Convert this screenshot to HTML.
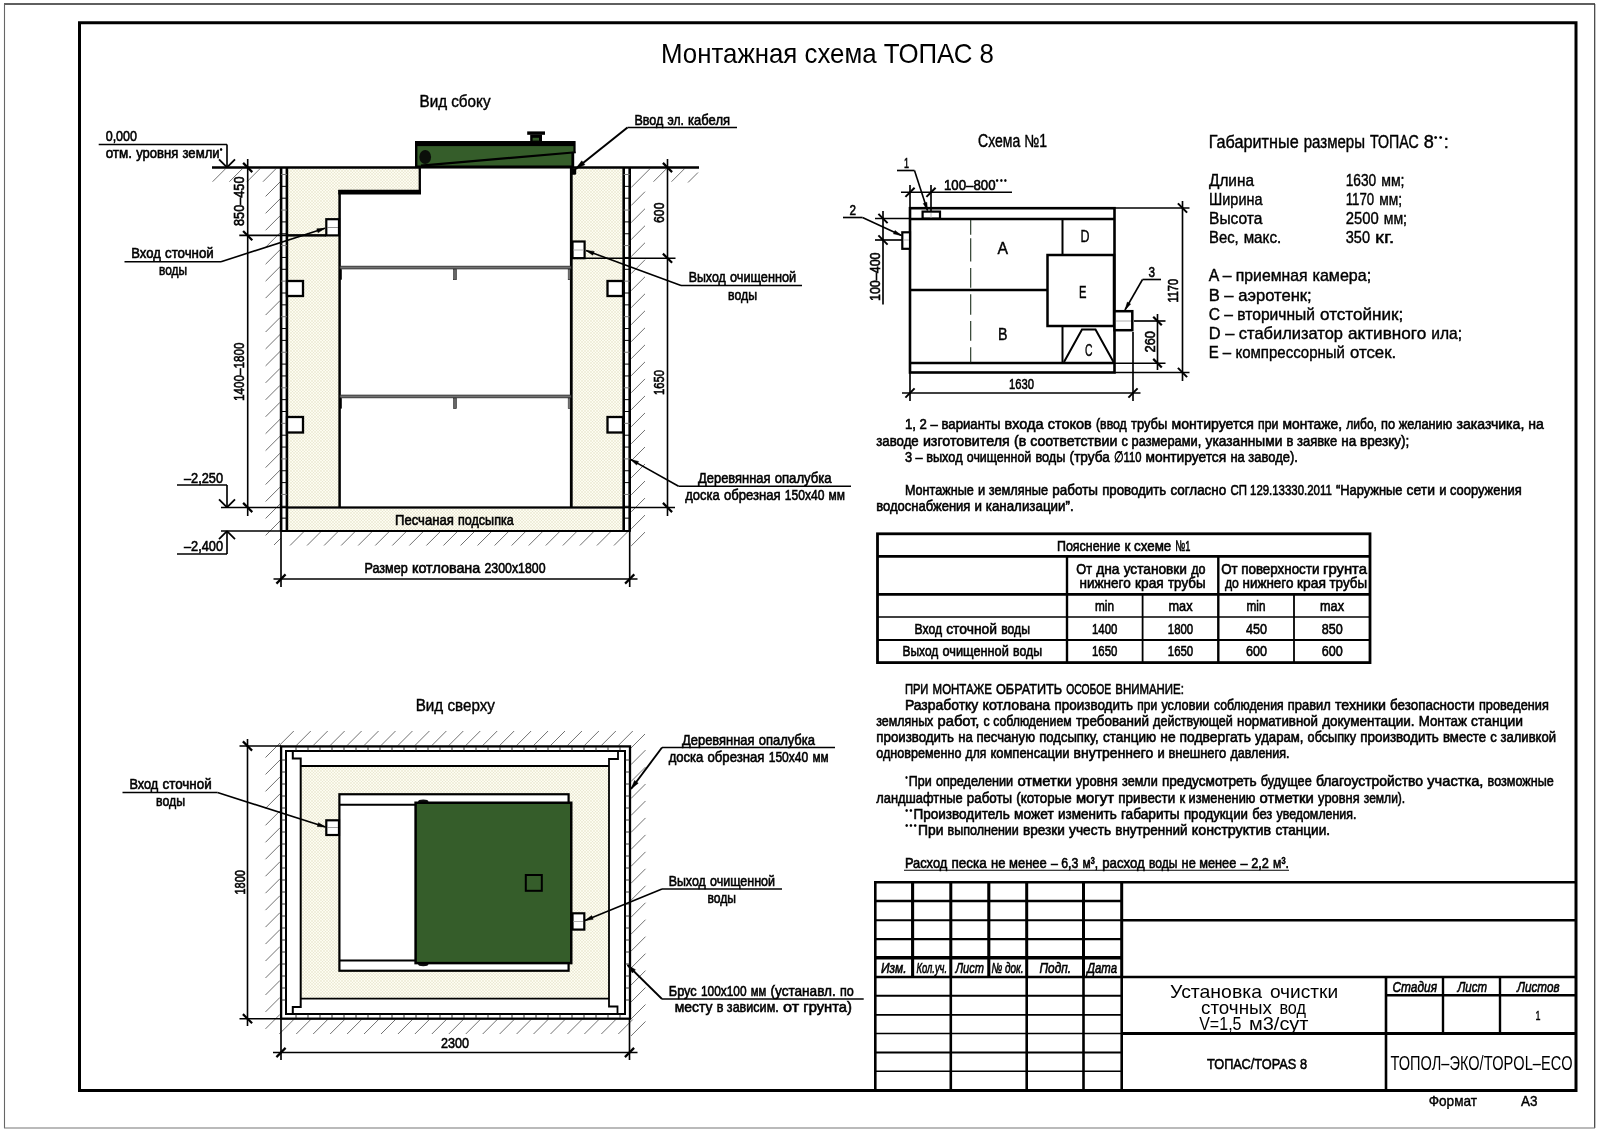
<!DOCTYPE html>
<html lang="ru"><head><meta charset="utf-8"><title>Монтажная схема ТОПАС 8</title>
<style>
html,body{margin:0;padding:0;background:#fff;}
body{width:1600px;height:1131px;overflow:hidden;font-family:"Liberation Sans",sans-serif;}
svg{display:block}
text{font-family:"Liberation Sans",sans-serif;fill:#000;}
.tb{stroke:#000;stroke-width:.62px;}
.tm{stroke:#000;stroke-width:.42px;}
.tl{stroke:none;}
.tn{stroke:#000;stroke-width:.55px;}
.ti{font-style:italic;stroke:#000;stroke-width:.6px;}
</style></head><body>
<svg width="1600" height="1131" viewBox="0 0 1600 1131" shape-rendering="geometricPrecision">
<defs>
<filter id="gray" x="0" y="0" width="1600" height="1131" filterUnits="userSpaceOnUse" color-interpolation-filters="sRGB"><feColorMatrix type="saturate" values="0"/></filter>
<pattern id="sand" width="3" height="3" patternUnits="userSpaceOnUse">
<rect width="3" height="3" fill="#fdfcf1"/>
<path d="M0,0 L3,3 M3,0 L0,3" stroke="#d6d2b2" stroke-width="0.32"/>
</pattern>
</defs>
<rect width="1600" height="1131" fill="#fff"/>
<line x1="4" y1="4" x2="1595" y2="4" stroke="#2a2a2a" stroke-width="1.3" />
<line x1="1594.7" y1="4" x2="1594.7" y2="1128" stroke="#3a3a3a" stroke-width="1.2" />
<line x1="4.5" y1="4" x2="4.5" y2="1128" stroke="#666" stroke-width="1.1" />
<line x1="4" y1="1128" x2="1595" y2="1128" stroke="#777" stroke-width="1.2" />
<rect x="79.5" y="22.75" width="1496.5" height="1067.75" stroke="#000" stroke-width="3" fill="none" />
<path d="M288,168.7 H420 V191.5 H339.4 V507.5 H288 Z" fill="url(#sand)"/>
<rect x="572.5" y="168.7" width="50" height="339" fill="url(#sand)"/>
<rect x="288" y="508.5" width="335" height="22" fill="url(#sand)"/>
<line x1="225.6" y1="168.7" x2="212.6" y2="181.7" stroke="#727272" stroke-width="1" />
<line x1="242.4" y1="168.7" x2="229.4" y2="181.7" stroke="#727272" stroke-width="1" />
<line x1="260" y1="168.7" x2="247" y2="181.7" stroke="#727272" stroke-width="1" />
<line x1="276" y1="168.7" x2="263" y2="181.7" stroke="#727272" stroke-width="1" />
<line x1="265.6" y1="196.4" x2="280" y2="182" stroke="#727272" stroke-width="1" />
<line x1="265.6" y1="213.35" x2="280" y2="198.95" stroke="#727272" stroke-width="1" />
<line x1="265.6" y1="230.3" x2="280" y2="215.9" stroke="#727272" stroke-width="1" />
<line x1="265.6" y1="247.25" x2="280" y2="232.85" stroke="#727272" stroke-width="1" />
<line x1="265.6" y1="264.2" x2="280" y2="249.8" stroke="#727272" stroke-width="1" />
<line x1="265.6" y1="281.15" x2="280" y2="266.75" stroke="#727272" stroke-width="1" />
<line x1="265.6" y1="298.1" x2="280" y2="283.7" stroke="#727272" stroke-width="1" />
<line x1="265.6" y1="315.05" x2="280" y2="300.65" stroke="#727272" stroke-width="1" />
<line x1="265.6" y1="332" x2="280" y2="317.6" stroke="#727272" stroke-width="1" />
<line x1="265.6" y1="348.95" x2="280" y2="334.55" stroke="#727272" stroke-width="1" />
<line x1="265.6" y1="365.9" x2="280" y2="351.5" stroke="#727272" stroke-width="1" />
<line x1="265.6" y1="382.85" x2="280" y2="368.45" stroke="#727272" stroke-width="1" />
<line x1="265.6" y1="399.8" x2="280" y2="385.4" stroke="#727272" stroke-width="1" />
<line x1="265.6" y1="416.75" x2="280" y2="402.35" stroke="#727272" stroke-width="1" />
<line x1="265.6" y1="433.7" x2="280" y2="419.3" stroke="#727272" stroke-width="1" />
<line x1="265.6" y1="450.65" x2="280" y2="436.25" stroke="#727272" stroke-width="1" />
<line x1="265.6" y1="467.6" x2="280" y2="453.2" stroke="#727272" stroke-width="1" />
<line x1="265.6" y1="484.55" x2="280" y2="470.15" stroke="#727272" stroke-width="1" />
<line x1="265.6" y1="501.5" x2="280" y2="487.1" stroke="#727272" stroke-width="1" />
<line x1="265.6" y1="518.45" x2="280" y2="504.05" stroke="#727272" stroke-width="1" />
<line x1="265.6" y1="535.4" x2="280" y2="521" stroke="#727272" stroke-width="1" />
<line x1="631.2" y1="187.5" x2="650" y2="168.7" stroke="#727272" stroke-width="1" />
<line x1="631.2" y1="205.5" x2="645" y2="191.7" stroke="#727272" stroke-width="1" />
<line x1="631.2" y1="222.52" x2="645" y2="208.72" stroke="#727272" stroke-width="1" />
<line x1="631.2" y1="239.54" x2="645" y2="225.74" stroke="#727272" stroke-width="1" />
<line x1="631.2" y1="256.56" x2="645" y2="242.76" stroke="#727272" stroke-width="1" />
<line x1="631.2" y1="273.58" x2="645" y2="259.78" stroke="#727272" stroke-width="1" />
<line x1="631.2" y1="290.6" x2="645" y2="276.8" stroke="#727272" stroke-width="1" />
<line x1="631.2" y1="307.62" x2="645" y2="293.82" stroke="#727272" stroke-width="1" />
<line x1="631.2" y1="324.64" x2="645" y2="310.84" stroke="#727272" stroke-width="1" />
<line x1="631.2" y1="341.66" x2="645" y2="327.86" stroke="#727272" stroke-width="1" />
<line x1="631.2" y1="358.68" x2="645" y2="344.88" stroke="#727272" stroke-width="1" />
<line x1="631.2" y1="375.7" x2="645" y2="361.9" stroke="#727272" stroke-width="1" />
<line x1="631.2" y1="392.72" x2="645" y2="378.92" stroke="#727272" stroke-width="1" />
<line x1="631.2" y1="409.74" x2="645" y2="395.94" stroke="#727272" stroke-width="1" />
<line x1="631.2" y1="426.76" x2="645" y2="412.96" stroke="#727272" stroke-width="1" />
<line x1="631.2" y1="443.78" x2="645" y2="429.98" stroke="#727272" stroke-width="1" />
<line x1="631.2" y1="460.8" x2="645" y2="447" stroke="#727272" stroke-width="1" />
<line x1="631.2" y1="477.82" x2="645" y2="464.02" stroke="#727272" stroke-width="1" />
<line x1="631.2" y1="494.84" x2="645" y2="481.04" stroke="#727272" stroke-width="1" />
<line x1="631.2" y1="511.86" x2="645" y2="498.06" stroke="#727272" stroke-width="1" />
<line x1="631.2" y1="528.88" x2="645" y2="515.08" stroke="#727272" stroke-width="1" />
<line x1="631.2" y1="545.9" x2="645" y2="532.1" stroke="#727272" stroke-width="1" />
<line x1="666.5" y1="168.7" x2="653.5" y2="181.7" stroke="#727272" stroke-width="1" />
<line x1="684.5" y1="168.7" x2="671.5" y2="181.7" stroke="#727272" stroke-width="1" />
<line x1="698" y1="172.5" x2="688" y2="182.5" stroke="#727272" stroke-width="1" />
<line x1="303.5" y1="532" x2="290" y2="545.5" stroke="#727272" stroke-width="1" />
<line x1="320.55" y1="532" x2="307.05" y2="545.5" stroke="#727272" stroke-width="1" />
<line x1="337.6" y1="532" x2="324.1" y2="545.5" stroke="#727272" stroke-width="1" />
<line x1="354.65" y1="532" x2="341.15" y2="545.5" stroke="#727272" stroke-width="1" />
<line x1="371.7" y1="532" x2="358.2" y2="545.5" stroke="#727272" stroke-width="1" />
<line x1="388.75" y1="532" x2="375.25" y2="545.5" stroke="#727272" stroke-width="1" />
<line x1="405.8" y1="532" x2="392.3" y2="545.5" stroke="#727272" stroke-width="1" />
<line x1="422.85" y1="532" x2="409.35" y2="545.5" stroke="#727272" stroke-width="1" />
<line x1="439.9" y1="532" x2="426.4" y2="545.5" stroke="#727272" stroke-width="1" />
<line x1="456.95" y1="532" x2="443.45" y2="545.5" stroke="#727272" stroke-width="1" />
<line x1="474" y1="532" x2="460.5" y2="545.5" stroke="#727272" stroke-width="1" />
<line x1="491.05" y1="532" x2="477.55" y2="545.5" stroke="#727272" stroke-width="1" />
<line x1="508.1" y1="532" x2="494.6" y2="545.5" stroke="#727272" stroke-width="1" />
<line x1="525.15" y1="532" x2="511.65" y2="545.5" stroke="#727272" stroke-width="1" />
<line x1="542.2" y1="532" x2="528.7" y2="545.5" stroke="#727272" stroke-width="1" />
<line x1="559.25" y1="532" x2="545.75" y2="545.5" stroke="#727272" stroke-width="1" />
<line x1="576.3" y1="532" x2="562.8" y2="545.5" stroke="#727272" stroke-width="1" />
<line x1="593.35" y1="532" x2="579.85" y2="545.5" stroke="#727272" stroke-width="1" />
<line x1="610.4" y1="532" x2="596.9" y2="545.5" stroke="#727272" stroke-width="1" />
<line x1="627.45" y1="532" x2="613.95" y2="545.5" stroke="#727272" stroke-width="1" />
<line x1="281" y1="538" x2="274" y2="545" stroke="#727272" stroke-width="1" />
<line x1="212" y1="167.5" x2="699" y2="167.5" stroke="#000" stroke-width="2.6" />
<line x1="281.1" y1="167.5" x2="281.1" y2="531" stroke="#000" stroke-width="2.6" />
<line x1="286.9" y1="167.5" x2="286.9" y2="531" stroke="#000" stroke-width="2.6" />
<line x1="281.1" y1="174.5" x2="286.9" y2="174.5" stroke="#777" stroke-width="1" />
<line x1="281.1" y1="186.35" x2="286.9" y2="186.35" stroke="#000" stroke-width="1" />
<line x1="281.1" y1="198.2" x2="286.9" y2="198.2" stroke="#000" stroke-width="1" />
<line x1="281.1" y1="210.05" x2="286.9" y2="210.05" stroke="#777" stroke-width="1" />
<line x1="281.1" y1="221.9" x2="286.9" y2="221.9" stroke="#000" stroke-width="1" />
<line x1="281.1" y1="233.75" x2="286.9" y2="233.75" stroke="#000" stroke-width="1" />
<line x1="281.1" y1="245.6" x2="286.9" y2="245.6" stroke="#777" stroke-width="1" />
<line x1="281.1" y1="257.45" x2="286.9" y2="257.45" stroke="#000" stroke-width="1" />
<line x1="281.1" y1="269.3" x2="286.9" y2="269.3" stroke="#000" stroke-width="1" />
<line x1="281.1" y1="281.15" x2="286.9" y2="281.15" stroke="#777" stroke-width="1" />
<line x1="281.1" y1="293" x2="286.9" y2="293" stroke="#000" stroke-width="1" />
<line x1="281.1" y1="304.85" x2="286.9" y2="304.85" stroke="#000" stroke-width="1" />
<line x1="281.1" y1="316.7" x2="286.9" y2="316.7" stroke="#777" stroke-width="1" />
<line x1="281.1" y1="328.55" x2="286.9" y2="328.55" stroke="#000" stroke-width="1" />
<line x1="281.1" y1="340.4" x2="286.9" y2="340.4" stroke="#000" stroke-width="1" />
<line x1="281.1" y1="352.25" x2="286.9" y2="352.25" stroke="#777" stroke-width="1" />
<line x1="281.1" y1="364.1" x2="286.9" y2="364.1" stroke="#000" stroke-width="1" />
<line x1="281.1" y1="375.95" x2="286.9" y2="375.95" stroke="#000" stroke-width="1" />
<line x1="281.1" y1="387.8" x2="286.9" y2="387.8" stroke="#777" stroke-width="1" />
<line x1="281.1" y1="399.65" x2="286.9" y2="399.65" stroke="#000" stroke-width="1" />
<line x1="281.1" y1="411.5" x2="286.9" y2="411.5" stroke="#000" stroke-width="1" />
<line x1="281.1" y1="423.35" x2="286.9" y2="423.35" stroke="#777" stroke-width="1" />
<line x1="281.1" y1="435.2" x2="286.9" y2="435.2" stroke="#000" stroke-width="1" />
<line x1="281.1" y1="447.05" x2="286.9" y2="447.05" stroke="#000" stroke-width="1" />
<line x1="281.1" y1="458.9" x2="286.9" y2="458.9" stroke="#777" stroke-width="1" />
<line x1="281.1" y1="470.75" x2="286.9" y2="470.75" stroke="#000" stroke-width="1" />
<line x1="281.1" y1="482.6" x2="286.9" y2="482.6" stroke="#000" stroke-width="1" />
<line x1="281.1" y1="494.45" x2="286.9" y2="494.45" stroke="#777" stroke-width="1" />
<line x1="281.1" y1="506.3" x2="286.9" y2="506.3" stroke="#000" stroke-width="1" />
<line x1="281.1" y1="518.15" x2="286.9" y2="518.15" stroke="#000" stroke-width="1" />
<line x1="623.7" y1="167.5" x2="623.7" y2="531" stroke="#000" stroke-width="2.6" />
<line x1="629.7" y1="167.5" x2="629.7" y2="531" stroke="#000" stroke-width="2.6" />
<line x1="623.7" y1="174.5" x2="629.7" y2="174.5" stroke="#777" stroke-width="1" />
<line x1="623.7" y1="186.35" x2="629.7" y2="186.35" stroke="#000" stroke-width="1" />
<line x1="623.7" y1="198.2" x2="629.7" y2="198.2" stroke="#000" stroke-width="1" />
<line x1="623.7" y1="210.05" x2="629.7" y2="210.05" stroke="#777" stroke-width="1" />
<line x1="623.7" y1="221.9" x2="629.7" y2="221.9" stroke="#000" stroke-width="1" />
<line x1="623.7" y1="233.75" x2="629.7" y2="233.75" stroke="#000" stroke-width="1" />
<line x1="623.7" y1="245.6" x2="629.7" y2="245.6" stroke="#777" stroke-width="1" />
<line x1="623.7" y1="257.45" x2="629.7" y2="257.45" stroke="#000" stroke-width="1" />
<line x1="623.7" y1="269.3" x2="629.7" y2="269.3" stroke="#000" stroke-width="1" />
<line x1="623.7" y1="281.15" x2="629.7" y2="281.15" stroke="#777" stroke-width="1" />
<line x1="623.7" y1="293" x2="629.7" y2="293" stroke="#000" stroke-width="1" />
<line x1="623.7" y1="304.85" x2="629.7" y2="304.85" stroke="#000" stroke-width="1" />
<line x1="623.7" y1="316.7" x2="629.7" y2="316.7" stroke="#777" stroke-width="1" />
<line x1="623.7" y1="328.55" x2="629.7" y2="328.55" stroke="#000" stroke-width="1" />
<line x1="623.7" y1="340.4" x2="629.7" y2="340.4" stroke="#000" stroke-width="1" />
<line x1="623.7" y1="352.25" x2="629.7" y2="352.25" stroke="#777" stroke-width="1" />
<line x1="623.7" y1="364.1" x2="629.7" y2="364.1" stroke="#000" stroke-width="1" />
<line x1="623.7" y1="375.95" x2="629.7" y2="375.95" stroke="#000" stroke-width="1" />
<line x1="623.7" y1="387.8" x2="629.7" y2="387.8" stroke="#777" stroke-width="1" />
<line x1="623.7" y1="399.65" x2="629.7" y2="399.65" stroke="#000" stroke-width="1" />
<line x1="623.7" y1="411.5" x2="629.7" y2="411.5" stroke="#000" stroke-width="1" />
<line x1="623.7" y1="423.35" x2="629.7" y2="423.35" stroke="#777" stroke-width="1" />
<line x1="623.7" y1="435.2" x2="629.7" y2="435.2" stroke="#000" stroke-width="1" />
<line x1="623.7" y1="447.05" x2="629.7" y2="447.05" stroke="#000" stroke-width="1" />
<line x1="623.7" y1="458.9" x2="629.7" y2="458.9" stroke="#777" stroke-width="1" />
<line x1="623.7" y1="470.75" x2="629.7" y2="470.75" stroke="#000" stroke-width="1" />
<line x1="623.7" y1="482.6" x2="629.7" y2="482.6" stroke="#000" stroke-width="1" />
<line x1="623.7" y1="494.45" x2="629.7" y2="494.45" stroke="#777" stroke-width="1" />
<line x1="623.7" y1="506.3" x2="629.7" y2="506.3" stroke="#000" stroke-width="1" />
<line x1="623.7" y1="518.15" x2="629.7" y2="518.15" stroke="#000" stroke-width="1" />
<rect x="287" y="281" width="16" height="15" stroke="#000" stroke-width="2.3" fill="#fff" />
<rect x="287" y="417" width="16" height="15.5" stroke="#000" stroke-width="2.3" fill="#fff" />
<rect x="607.5" y="281" width="15.5" height="15" stroke="#000" stroke-width="2.3" fill="#fff" />
<rect x="607.5" y="417" width="15.5" height="15.5" stroke="#000" stroke-width="2.3" fill="#fff" />
<path d="M420,168.7 H571 V507 H339.4 V191.5 H420 Z" fill="#fff"/>
<line x1="419.8" y1="167.5" x2="419.8" y2="193.5" stroke="#000" stroke-width="2.3" />
<line x1="338.3" y1="192.1" x2="421" y2="192.1" stroke="#000" stroke-width="4.7" />
<line x1="339.6" y1="190" x2="339.6" y2="508" stroke="#000" stroke-width="2.5" />
<line x1="571.3" y1="167.5" x2="571.3" y2="508" stroke="#000" stroke-width="2.8" />
<line x1="221" y1="507.5" x2="675" y2="507.5" stroke="#000" stroke-width="1.6" />
<line x1="287" y1="507.5" x2="623" y2="507.5" stroke="#000" stroke-width="2.2" />
<line x1="221" y1="531" x2="281" y2="531" stroke="#000" stroke-width="1.6" />
<line x1="281" y1="531" x2="630.8" y2="531" stroke="#000" stroke-width="2.2" />
<rect x="340" y="266.2" width="231" height="2.7" stroke="#222" stroke-width="0.8" fill="#727272" />
<rect x="453.6" y="269.2" width="2.8" height="10.5" stroke="#222" stroke-width="0.6" fill="#666" />
<line x1="340.8" y1="269.2" x2="340.8" y2="279.7" stroke="#000" stroke-width="2" />
<rect x="568.2" y="269.2" width="1.8" height="10.5" stroke="#222" stroke-width="0.6" fill="#999" />
<rect x="340" y="395.1" width="231" height="2.7" stroke="#222" stroke-width="0.8" fill="#727272" />
<rect x="453.6" y="398.1" width="2.8" height="10.5" stroke="#222" stroke-width="0.6" fill="#666" />
<line x1="340.8" y1="398.1" x2="340.8" y2="408.6" stroke="#000" stroke-width="2" />
<rect x="568.2" y="398.1" width="1.8" height="10.5" stroke="#222" stroke-width="0.6" fill="#999" />
<rect x="326.3" y="219.2" width="12.7" height="16.2" stroke="#000" stroke-width="2.2" fill="#fff" />
<line x1="327" y1="227.5" x2="338" y2="227.5" stroke="#777" stroke-width="0.8" />
<rect x="572.5" y="241.5" width="12.1" height="16.7" stroke="#000" stroke-width="2.2" fill="#fff" />
<line x1="573" y1="250" x2="584" y2="250" stroke="#999" stroke-width="0.8" />
<path d="M416.1,141.1 H574.8 V153 H573 V167 H416.1 Z" fill="#355d2a" stroke="#000" stroke-width="0"/>
<rect x="415" y="141.05" width="159.9" height="5.05" stroke="#000" stroke-width="0" fill="#000" />
<rect x="415" y="141.05" width="2.4" height="25.95" stroke="#000" stroke-width="0" fill="#000" />
<rect x="573.4" y="141.05" width="2.2" height="12.15" stroke="#000" stroke-width="0" fill="#000" />
<line x1="572.5" y1="152.4" x2="575.6" y2="152.4" stroke="#000" stroke-width="1.6" />
<rect x="571.4" y="152.5" width="2.8" height="15.5" stroke="#000" stroke-width="0" fill="#000" />
<line x1="415" y1="166.4" x2="573" y2="166.4" stroke="#000" stroke-width="2" />
<line x1="421" y1="165.7" x2="573" y2="152.5" stroke="#000" stroke-width="2.2" />
<ellipse cx="425.2" cy="157" rx="5.9" ry="7" fill="#0b0f0a"/>
<rect x="527.2" y="131.4" width="17.8" height="3.4" stroke="#000" stroke-width="0" fill="#000" />
<rect x="530.2" y="134.5" width="11.8" height="7" stroke="#000" stroke-width="0" fill="#000" />
<rect x="532.6" y="137.8" width="6.4" height="2.8" stroke="#000" stroke-width="0" fill="#355d2a" />
<rect x="570.8" y="168.3" width="5.4" height="6.5" stroke="#000" stroke-width="0" fill="#000" rx="1.5"/>
<line x1="98.7" y1="144.5" x2="227" y2="144.5" stroke="#000" stroke-width="1.65" />
<line x1="227" y1="144.5" x2="227" y2="167.5" stroke="#000" stroke-width="1.65" />
<line x1="219" y1="159.3" x2="227" y2="167.3" stroke="#000" stroke-width="1.8" />
<line x1="235" y1="159.3" x2="227" y2="167.3" stroke="#000" stroke-width="1.8" />
<line x1="177" y1="485" x2="227" y2="485" stroke="#000" stroke-width="1.65" />
<line x1="227" y1="485" x2="227" y2="507.5" stroke="#000" stroke-width="1.65" />
<line x1="219" y1="499.3" x2="227" y2="507.3" stroke="#000" stroke-width="1.8" />
<line x1="235" y1="499.3" x2="227" y2="507.3" stroke="#000" stroke-width="1.8" />
<line x1="177" y1="554" x2="227" y2="554" stroke="#000" stroke-width="1.65" />
<line x1="227" y1="554" x2="227" y2="531" stroke="#000" stroke-width="1.65" />
<line x1="219" y1="539.2" x2="227" y2="531.2" stroke="#000" stroke-width="1.8" />
<line x1="235" y1="539.2" x2="227" y2="531.2" stroke="#000" stroke-width="1.8" />
<line x1="247.7" y1="159" x2="247.7" y2="516" stroke="#000" stroke-width="1.6" />
<line x1="239.3" y1="235.4" x2="326" y2="235.4" stroke="#000" stroke-width="1.65" />
<line x1="287" y1="235.4" x2="326" y2="235.4" stroke="#000" stroke-width="2.2" />
<line x1="243.1" y1="162.9" x2="252.3" y2="172.1" stroke="#000" stroke-width="2.2" />
<line x1="243.1" y1="231" x2="252.3" y2="240.2" stroke="#000" stroke-width="2.2" />
<line x1="243.1" y1="502.9" x2="252.3" y2="512.1" stroke="#000" stroke-width="2.2" />
<line x1="667.5" y1="159" x2="667.5" y2="516" stroke="#000" stroke-width="1.6" />
<line x1="573" y1="258.2" x2="675.5" y2="258.2" stroke="#000" stroke-width="1.65" />
<line x1="662.9" y1="162.9" x2="672.1" y2="172.1" stroke="#000" stroke-width="2.2" />
<line x1="662.9" y1="253.6" x2="672.1" y2="262.8" stroke="#000" stroke-width="2.2" />
<line x1="662.9" y1="502.9" x2="672.1" y2="512.1" stroke="#000" stroke-width="2.2" />
<line x1="281" y1="531" x2="281" y2="587" stroke="#000" stroke-width="1.65" />
<line x1="629.7" y1="531" x2="629.7" y2="587" stroke="#000" stroke-width="1.65" />
<line x1="273.5" y1="579" x2="637.5" y2="579" stroke="#000" stroke-width="1.5" />
<line x1="276.4" y1="583.6" x2="285.6" y2="574.4" stroke="#000" stroke-width="2.2" />
<line x1="625.1" y1="583.6" x2="634.3" y2="574.4" stroke="#000" stroke-width="2.2" />
<line x1="627.5" y1="127.5" x2="737" y2="127.5" stroke="#000" stroke-width="1.65" />
<line x1="627.5" y1="127.5" x2="575.5" y2="169" stroke="#000" stroke-width="2.1" />
<polygon points="575.5,169 581.757,160.808 584.875,164.716" stroke="#000" stroke-width="0.5" fill="#000" />
<line x1="124.5" y1="261.7" x2="221" y2="261.7" stroke="#000" stroke-width="1.65" />
<line x1="221" y1="261.7" x2="325" y2="228.3" stroke="#000" stroke-width="1.6" />
<polygon points="325,228.3 317.995,232.65 316.772,228.842" stroke="#000" stroke-width="0.5" fill="#000" />
<line x1="681" y1="285.5" x2="802" y2="285.5" stroke="#000" stroke-width="1.65" />
<line x1="681" y1="285.5" x2="586" y2="250.5" stroke="#000" stroke-width="1.6" />
<polygon points="586,250.5 594.198,251.389 592.815,255.142" stroke="#000" stroke-width="0.5" fill="#000" />
<line x1="678.6" y1="486.2" x2="851" y2="486.2" stroke="#000" stroke-width="1.65" />
<line x1="678.6" y1="486.2" x2="630.6" y2="459.4" stroke="#000" stroke-width="1.6" />
<polygon points="630.6,459.4 638.56,461.554 636.61,465.046" stroke="#000" stroke-width="0.5" fill="#000" />
<rect x="910" y="208.2" width="204.5" height="164.3" stroke="#000" stroke-width="2.6" fill="#fff" />
<line x1="910" y1="219" x2="1114.5" y2="219" stroke="#000" stroke-width="2.3" />
<line x1="910" y1="363" x2="1114.5" y2="363" stroke="#000" stroke-width="2.3" />
<line x1="910" y1="290" x2="1047.5" y2="290" stroke="#000" stroke-width="2.3" />
<line x1="1062.5" y1="219" x2="1062.5" y2="255" stroke="#000" stroke-width="2" />
<line x1="1062.5" y1="326" x2="1062.5" y2="363" stroke="#000" stroke-width="2" />
<rect x="1047.5" y="255" width="66.5" height="71" stroke="#000" stroke-width="2.5" fill="#fff" />
<polyline points="1064,362 1082,329.5 1095.5,329.5 1113.5,362" stroke="#000" stroke-width="2" fill="none" />
<line x1="970.7" y1="220" x2="970.7" y2="234.8" stroke="#1c2e1c" stroke-width="1.1" />
<line x1="970.7" y1="238.3" x2="970.7" y2="261.6" stroke="#1c2e1c" stroke-width="1.1" />
<line x1="970.7" y1="268" x2="970.7" y2="287.8" stroke="#1c2e1c" stroke-width="1.1" />
<line x1="970.7" y1="294.2" x2="970.7" y2="314.7" stroke="#1c2e1c" stroke-width="1.1" />
<line x1="970.7" y1="321" x2="970.7" y2="340.8" stroke="#1c2e1c" stroke-width="1.1" />
<line x1="970.7" y1="347.2" x2="970.7" y2="362.5" stroke="#1c2e1c" stroke-width="1.1" />
<rect x="922.6" y="211.6" width="17.4" height="6.9" stroke="#000" stroke-width="2.2" fill="#fff" />
<line x1="931" y1="213" x2="931" y2="218" stroke="#aaa" stroke-width="0.8" />
<rect x="902.3" y="232.3" width="7.7" height="16.5" stroke="#000" stroke-width="2.2" fill="#fff" />
<line x1="903" y1="240" x2="909" y2="240" stroke="#999" stroke-width="0.8" />
<rect x="1114.5" y="311.2" width="17.8" height="19" stroke="#000" stroke-width="2.5" fill="#fff" />
<line x1="1116" y1="321" x2="1131" y2="321" stroke="#999" stroke-width="0.8" />
<line x1="910" y1="185" x2="910" y2="208" stroke="#000" stroke-width="1.65" />
<line x1="931" y1="185" x2="931" y2="211" stroke="#000" stroke-width="1.65" />
<line x1="901" y1="192.3" x2="1012" y2="192.3" stroke="#000" stroke-width="1.6" />
<line x1="905.4" y1="196.9" x2="914.6" y2="187.7" stroke="#000" stroke-width="2" />
<line x1="926.4" y1="196.9" x2="935.6" y2="187.7" stroke="#000" stroke-width="2" />
<line x1="883" y1="211" x2="883" y2="304.5" stroke="#000" stroke-width="1.65" />
<line x1="875" y1="218.5" x2="910" y2="218.5" stroke="#000" stroke-width="1.65" />
<line x1="875" y1="240" x2="902" y2="240" stroke="#000" stroke-width="1.65" />
<line x1="878.4" y1="213.9" x2="887.6" y2="223.1" stroke="#000" stroke-width="2" />
<line x1="878.4" y1="235.4" x2="887.6" y2="244.6" stroke="#000" stroke-width="2" />
<line x1="897" y1="170.5" x2="914.5" y2="170.5" stroke="#000" stroke-width="1.65" />
<line x1="914.5" y1="170.5" x2="927.5" y2="210.5" stroke="#000" stroke-width="1.6" />
<polygon points="927.5,210.5 923.22,203.479 926.834,202.304" stroke="#000" stroke-width="0.5" fill="#000" />
<line x1="843" y1="217.5" x2="862.5" y2="217.5" stroke="#000" stroke-width="1.65" />
<line x1="862.5" y1="217.5" x2="901.5" y2="235.5" stroke="#000" stroke-width="1.6" />
<polygon points="901.5,235.5 893.44,233.873 895.033,230.422" stroke="#000" stroke-width="0.5" fill="#000" />
<line x1="1142.5" y1="279.5" x2="1161" y2="279.5" stroke="#000" stroke-width="1.65" />
<line x1="1142.5" y1="279.5" x2="1125" y2="310" stroke="#000" stroke-width="1.6" />
<polygon points="1125,310 1127.33,302.115 1130.63,304.007" stroke="#000" stroke-width="0.5" fill="#000" />
<line x1="1157.5" y1="314" x2="1157.5" y2="370" stroke="#000" stroke-width="1.65" />
<line x1="1134" y1="321" x2="1165.5" y2="321" stroke="#000" stroke-width="1.65" />
<line x1="1114.5" y1="363.2" x2="1165.5" y2="363.2" stroke="#000" stroke-width="1.65" />
<line x1="1153.2" y1="316.7" x2="1161.8" y2="325.3" stroke="#000" stroke-width="2.2" />
<line x1="1153.2" y1="358.9" x2="1161.8" y2="367.5" stroke="#000" stroke-width="2.2" />
<line x1="1182.5" y1="201" x2="1182.5" y2="381" stroke="#000" stroke-width="1.65" />
<line x1="1114.5" y1="208" x2="1189.5" y2="208" stroke="#000" stroke-width="1.65" />
<line x1="1114.5" y1="372.5" x2="1189.5" y2="372.5" stroke="#000" stroke-width="1.65" />
<line x1="1177.9" y1="203.4" x2="1187.1" y2="212.6" stroke="#000" stroke-width="2" />
<line x1="1177.9" y1="367.9" x2="1187.1" y2="377.1" stroke="#000" stroke-width="2" />
<line x1="910" y1="373" x2="910" y2="401" stroke="#000" stroke-width="1.65" />
<line x1="1133" y1="332" x2="1133" y2="401" stroke="#000" stroke-width="1.65" />
<line x1="902" y1="393" x2="1140.5" y2="393" stroke="#000" stroke-width="1.5" />
<line x1="905.4" y1="397.6" x2="914.6" y2="388.4" stroke="#000" stroke-width="2" />
<line x1="1128.4" y1="397.6" x2="1137.6" y2="388.4" stroke="#000" stroke-width="2" />
<line x1="904" y1="870.3" x2="1289" y2="870.3" stroke="#000" stroke-width="1.1" />
<rect x="877.5" y="533.8" width="492.5" height="128.8" stroke="#000" stroke-width="2.8" fill="none" />
<line x1="877.5" y1="556.4" x2="1370" y2="556.4" stroke="#000" stroke-width="2.7" />
<line x1="877.5" y1="594.4" x2="1370" y2="594.4" stroke="#000" stroke-width="2.7" />
<line x1="877.5" y1="617" x2="1370" y2="617" stroke="#000" stroke-width="1.7" />
<line x1="877.5" y1="640" x2="1370" y2="640" stroke="#000" stroke-width="2.1" />
<line x1="1067" y1="556" x2="1067" y2="662.5" stroke="#000" stroke-width="2.4" />
<line x1="1218.3" y1="556" x2="1218.3" y2="662.5" stroke="#000" stroke-width="2.4" />
<line x1="1142.6" y1="594" x2="1142.6" y2="662.5" stroke="#000" stroke-width="1.8" />
<line x1="1294" y1="594" x2="1294" y2="662.5" stroke="#000" stroke-width="1.8" />
<line x1="279.3" y1="745.5" x2="293.8" y2="731" stroke="#727272" stroke-width="1" />
<line x1="296.25" y1="745.5" x2="310.75" y2="731" stroke="#727272" stroke-width="1" />
<line x1="313.2" y1="745.5" x2="327.7" y2="731" stroke="#727272" stroke-width="1" />
<line x1="330.15" y1="745.5" x2="344.65" y2="731" stroke="#727272" stroke-width="1" />
<line x1="347.1" y1="745.5" x2="361.6" y2="731" stroke="#727272" stroke-width="1" />
<line x1="364.05" y1="745.5" x2="378.55" y2="731" stroke="#727272" stroke-width="1" />
<line x1="381" y1="745.5" x2="395.5" y2="731" stroke="#727272" stroke-width="1" />
<line x1="397.95" y1="745.5" x2="412.45" y2="731" stroke="#727272" stroke-width="1" />
<line x1="414.9" y1="745.5" x2="429.4" y2="731" stroke="#727272" stroke-width="1" />
<line x1="431.85" y1="745.5" x2="446.35" y2="731" stroke="#727272" stroke-width="1" />
<line x1="448.8" y1="745.5" x2="463.3" y2="731" stroke="#727272" stroke-width="1" />
<line x1="465.75" y1="745.5" x2="480.25" y2="731" stroke="#727272" stroke-width="1" />
<line x1="482.7" y1="745.5" x2="497.2" y2="731" stroke="#727272" stroke-width="1" />
<line x1="499.65" y1="745.5" x2="514.15" y2="731" stroke="#727272" stroke-width="1" />
<line x1="516.6" y1="745.5" x2="531.1" y2="731" stroke="#727272" stroke-width="1" />
<line x1="533.55" y1="745.5" x2="548.05" y2="731" stroke="#727272" stroke-width="1" />
<line x1="550.5" y1="745.5" x2="565" y2="731" stroke="#727272" stroke-width="1" />
<line x1="567.45" y1="745.5" x2="581.95" y2="731" stroke="#727272" stroke-width="1" />
<line x1="584.4" y1="745.5" x2="598.9" y2="731" stroke="#727272" stroke-width="1" />
<line x1="601.35" y1="745.5" x2="615.85" y2="731" stroke="#727272" stroke-width="1" />
<line x1="618.3" y1="745.5" x2="632.8" y2="731" stroke="#727272" stroke-width="1" />
<line x1="279.3" y1="1034" x2="293.8" y2="1019.5" stroke="#727272" stroke-width="1" />
<line x1="296.25" y1="1034" x2="310.75" y2="1019.5" stroke="#727272" stroke-width="1" />
<line x1="313.2" y1="1034" x2="327.7" y2="1019.5" stroke="#727272" stroke-width="1" />
<line x1="330.15" y1="1034" x2="344.65" y2="1019.5" stroke="#727272" stroke-width="1" />
<line x1="347.1" y1="1034" x2="361.6" y2="1019.5" stroke="#727272" stroke-width="1" />
<line x1="364.05" y1="1034" x2="378.55" y2="1019.5" stroke="#727272" stroke-width="1" />
<line x1="381" y1="1034" x2="395.5" y2="1019.5" stroke="#727272" stroke-width="1" />
<line x1="397.95" y1="1034" x2="412.45" y2="1019.5" stroke="#727272" stroke-width="1" />
<line x1="414.9" y1="1034" x2="429.4" y2="1019.5" stroke="#727272" stroke-width="1" />
<line x1="431.85" y1="1034" x2="446.35" y2="1019.5" stroke="#727272" stroke-width="1" />
<line x1="448.8" y1="1034" x2="463.3" y2="1019.5" stroke="#727272" stroke-width="1" />
<line x1="465.75" y1="1034" x2="480.25" y2="1019.5" stroke="#727272" stroke-width="1" />
<line x1="482.7" y1="1034" x2="497.2" y2="1019.5" stroke="#727272" stroke-width="1" />
<line x1="499.65" y1="1034" x2="514.15" y2="1019.5" stroke="#727272" stroke-width="1" />
<line x1="516.6" y1="1034" x2="531.1" y2="1019.5" stroke="#727272" stroke-width="1" />
<line x1="533.55" y1="1034" x2="548.05" y2="1019.5" stroke="#727272" stroke-width="1" />
<line x1="550.5" y1="1034" x2="565" y2="1019.5" stroke="#727272" stroke-width="1" />
<line x1="567.45" y1="1034" x2="581.95" y2="1019.5" stroke="#727272" stroke-width="1" />
<line x1="584.4" y1="1034" x2="598.9" y2="1019.5" stroke="#727272" stroke-width="1" />
<line x1="601.35" y1="1034" x2="615.85" y2="1019.5" stroke="#727272" stroke-width="1" />
<line x1="618.3" y1="1034" x2="632.8" y2="1019.5" stroke="#727272" stroke-width="1" />
<line x1="265.5" y1="757.5" x2="280" y2="743" stroke="#727272" stroke-width="1" />
<line x1="265.5" y1="774.46" x2="280" y2="759.96" stroke="#727272" stroke-width="1" />
<line x1="265.5" y1="791.42" x2="280" y2="776.92" stroke="#727272" stroke-width="1" />
<line x1="265.5" y1="808.38" x2="280" y2="793.88" stroke="#727272" stroke-width="1" />
<line x1="265.5" y1="825.34" x2="280" y2="810.84" stroke="#727272" stroke-width="1" />
<line x1="265.5" y1="842.3" x2="280" y2="827.8" stroke="#727272" stroke-width="1" />
<line x1="265.5" y1="859.26" x2="280" y2="844.76" stroke="#727272" stroke-width="1" />
<line x1="265.5" y1="876.22" x2="280" y2="861.72" stroke="#727272" stroke-width="1" />
<line x1="265.5" y1="893.18" x2="280" y2="878.68" stroke="#727272" stroke-width="1" />
<line x1="265.5" y1="910.14" x2="280" y2="895.64" stroke="#727272" stroke-width="1" />
<line x1="265.5" y1="927.1" x2="280" y2="912.6" stroke="#727272" stroke-width="1" />
<line x1="265.5" y1="944.06" x2="280" y2="929.56" stroke="#727272" stroke-width="1" />
<line x1="265.5" y1="961.02" x2="280" y2="946.52" stroke="#727272" stroke-width="1" />
<line x1="265.5" y1="977.98" x2="280" y2="963.48" stroke="#727272" stroke-width="1" />
<line x1="265.5" y1="994.94" x2="280" y2="980.44" stroke="#727272" stroke-width="1" />
<line x1="265.5" y1="1011.9" x2="280" y2="997.4" stroke="#727272" stroke-width="1" />
<line x1="265.5" y1="1028.86" x2="280" y2="1014.36" stroke="#727272" stroke-width="1" />
<line x1="631" y1="748" x2="645" y2="734" stroke="#727272" stroke-width="1" />
<line x1="631" y1="764.6" x2="645.5" y2="750.1" stroke="#727272" stroke-width="1" />
<line x1="631" y1="781.56" x2="645.5" y2="767.06" stroke="#727272" stroke-width="1" />
<line x1="631" y1="798.52" x2="645.5" y2="784.02" stroke="#727272" stroke-width="1" />
<line x1="631" y1="815.48" x2="645.5" y2="800.98" stroke="#727272" stroke-width="1" />
<line x1="631" y1="832.44" x2="645.5" y2="817.94" stroke="#727272" stroke-width="1" />
<line x1="631" y1="849.4" x2="645.5" y2="834.9" stroke="#727272" stroke-width="1" />
<line x1="631" y1="866.36" x2="645.5" y2="851.86" stroke="#727272" stroke-width="1" />
<line x1="631" y1="883.32" x2="645.5" y2="868.82" stroke="#727272" stroke-width="1" />
<line x1="631" y1="900.28" x2="645.5" y2="885.78" stroke="#727272" stroke-width="1" />
<line x1="631" y1="917.24" x2="645.5" y2="902.74" stroke="#727272" stroke-width="1" />
<line x1="631" y1="934.2" x2="645.5" y2="919.7" stroke="#727272" stroke-width="1" />
<line x1="631" y1="951.16" x2="645.5" y2="936.66" stroke="#727272" stroke-width="1" />
<line x1="631" y1="968.12" x2="645.5" y2="953.62" stroke="#727272" stroke-width="1" />
<line x1="631" y1="985.08" x2="645.5" y2="970.58" stroke="#727272" stroke-width="1" />
<line x1="631" y1="1002.04" x2="645.5" y2="987.54" stroke="#727272" stroke-width="1" />
<line x1="631" y1="1019" x2="645.5" y2="1004.5" stroke="#727272" stroke-width="1" />
<line x1="631" y1="1035.96" x2="645.5" y2="1021.46" stroke="#727272" stroke-width="1" />
<rect x="281.1" y="746.4" width="348.9" height="272.3" stroke="#000" stroke-width="2.3" fill="#fff" />
<rect x="286" y="751" width="339" height="263" stroke="#000" stroke-width="2" fill="none" />
<line x1="296" y1="747" x2="296" y2="750.5" stroke="#333" stroke-width="1" />
<line x1="296" y1="1014.5" x2="296" y2="1018" stroke="#333" stroke-width="1" />
<line x1="308" y1="747" x2="308" y2="750.5" stroke="#333" stroke-width="1" />
<line x1="308" y1="1014.5" x2="308" y2="1018" stroke="#333" stroke-width="1" />
<line x1="320" y1="747" x2="320" y2="750.5" stroke="#333" stroke-width="1" />
<line x1="320" y1="1014.5" x2="320" y2="1018" stroke="#333" stroke-width="1" />
<line x1="332" y1="747" x2="332" y2="750.5" stroke="#333" stroke-width="1" />
<line x1="332" y1="1014.5" x2="332" y2="1018" stroke="#333" stroke-width="1" />
<line x1="344" y1="747" x2="344" y2="750.5" stroke="#333" stroke-width="1" />
<line x1="344" y1="1014.5" x2="344" y2="1018" stroke="#333" stroke-width="1" />
<line x1="356" y1="747" x2="356" y2="750.5" stroke="#333" stroke-width="1" />
<line x1="356" y1="1014.5" x2="356" y2="1018" stroke="#333" stroke-width="1" />
<line x1="368" y1="747" x2="368" y2="750.5" stroke="#333" stroke-width="1" />
<line x1="368" y1="1014.5" x2="368" y2="1018" stroke="#333" stroke-width="1" />
<line x1="380" y1="747" x2="380" y2="750.5" stroke="#333" stroke-width="1" />
<line x1="380" y1="1014.5" x2="380" y2="1018" stroke="#333" stroke-width="1" />
<line x1="392" y1="747" x2="392" y2="750.5" stroke="#333" stroke-width="1" />
<line x1="392" y1="1014.5" x2="392" y2="1018" stroke="#333" stroke-width="1" />
<line x1="404" y1="747" x2="404" y2="750.5" stroke="#333" stroke-width="1" />
<line x1="404" y1="1014.5" x2="404" y2="1018" stroke="#333" stroke-width="1" />
<line x1="416" y1="747" x2="416" y2="750.5" stroke="#333" stroke-width="1" />
<line x1="416" y1="1014.5" x2="416" y2="1018" stroke="#333" stroke-width="1" />
<line x1="428" y1="747" x2="428" y2="750.5" stroke="#333" stroke-width="1" />
<line x1="428" y1="1014.5" x2="428" y2="1018" stroke="#333" stroke-width="1" />
<line x1="440" y1="747" x2="440" y2="750.5" stroke="#333" stroke-width="1" />
<line x1="440" y1="1014.5" x2="440" y2="1018" stroke="#333" stroke-width="1" />
<line x1="452" y1="747" x2="452" y2="750.5" stroke="#333" stroke-width="1" />
<line x1="452" y1="1014.5" x2="452" y2="1018" stroke="#333" stroke-width="1" />
<line x1="464" y1="747" x2="464" y2="750.5" stroke="#333" stroke-width="1" />
<line x1="464" y1="1014.5" x2="464" y2="1018" stroke="#333" stroke-width="1" />
<line x1="476" y1="747" x2="476" y2="750.5" stroke="#333" stroke-width="1" />
<line x1="476" y1="1014.5" x2="476" y2="1018" stroke="#333" stroke-width="1" />
<line x1="488" y1="747" x2="488" y2="750.5" stroke="#333" stroke-width="1" />
<line x1="488" y1="1014.5" x2="488" y2="1018" stroke="#333" stroke-width="1" />
<line x1="500" y1="747" x2="500" y2="750.5" stroke="#333" stroke-width="1" />
<line x1="500" y1="1014.5" x2="500" y2="1018" stroke="#333" stroke-width="1" />
<line x1="512" y1="747" x2="512" y2="750.5" stroke="#333" stroke-width="1" />
<line x1="512" y1="1014.5" x2="512" y2="1018" stroke="#333" stroke-width="1" />
<line x1="524" y1="747" x2="524" y2="750.5" stroke="#333" stroke-width="1" />
<line x1="524" y1="1014.5" x2="524" y2="1018" stroke="#333" stroke-width="1" />
<line x1="536" y1="747" x2="536" y2="750.5" stroke="#333" stroke-width="1" />
<line x1="536" y1="1014.5" x2="536" y2="1018" stroke="#333" stroke-width="1" />
<line x1="548" y1="747" x2="548" y2="750.5" stroke="#333" stroke-width="1" />
<line x1="548" y1="1014.5" x2="548" y2="1018" stroke="#333" stroke-width="1" />
<line x1="560" y1="747" x2="560" y2="750.5" stroke="#333" stroke-width="1" />
<line x1="560" y1="1014.5" x2="560" y2="1018" stroke="#333" stroke-width="1" />
<line x1="572" y1="747" x2="572" y2="750.5" stroke="#333" stroke-width="1" />
<line x1="572" y1="1014.5" x2="572" y2="1018" stroke="#333" stroke-width="1" />
<line x1="584" y1="747" x2="584" y2="750.5" stroke="#333" stroke-width="1" />
<line x1="584" y1="1014.5" x2="584" y2="1018" stroke="#333" stroke-width="1" />
<line x1="596" y1="747" x2="596" y2="750.5" stroke="#333" stroke-width="1" />
<line x1="596" y1="1014.5" x2="596" y2="1018" stroke="#333" stroke-width="1" />
<line x1="608" y1="747" x2="608" y2="750.5" stroke="#333" stroke-width="1" />
<line x1="608" y1="1014.5" x2="608" y2="1018" stroke="#333" stroke-width="1" />
<line x1="620" y1="747" x2="620" y2="750.5" stroke="#333" stroke-width="1" />
<line x1="620" y1="1014.5" x2="620" y2="1018" stroke="#333" stroke-width="1" />
<line x1="281.5" y1="760" x2="285.5" y2="760" stroke="#333" stroke-width="1" />
<line x1="625.5" y1="760" x2="629.5" y2="760" stroke="#333" stroke-width="1" />
<line x1="281.5" y1="772" x2="285.5" y2="772" stroke="#333" stroke-width="1" />
<line x1="625.5" y1="772" x2="629.5" y2="772" stroke="#333" stroke-width="1" />
<line x1="281.5" y1="784" x2="285.5" y2="784" stroke="#333" stroke-width="1" />
<line x1="625.5" y1="784" x2="629.5" y2="784" stroke="#333" stroke-width="1" />
<line x1="281.5" y1="796" x2="285.5" y2="796" stroke="#333" stroke-width="1" />
<line x1="625.5" y1="796" x2="629.5" y2="796" stroke="#333" stroke-width="1" />
<line x1="281.5" y1="808" x2="285.5" y2="808" stroke="#333" stroke-width="1" />
<line x1="625.5" y1="808" x2="629.5" y2="808" stroke="#333" stroke-width="1" />
<line x1="281.5" y1="820" x2="285.5" y2="820" stroke="#333" stroke-width="1" />
<line x1="625.5" y1="820" x2="629.5" y2="820" stroke="#333" stroke-width="1" />
<line x1="281.5" y1="832" x2="285.5" y2="832" stroke="#333" stroke-width="1" />
<line x1="625.5" y1="832" x2="629.5" y2="832" stroke="#333" stroke-width="1" />
<line x1="281.5" y1="844" x2="285.5" y2="844" stroke="#333" stroke-width="1" />
<line x1="625.5" y1="844" x2="629.5" y2="844" stroke="#333" stroke-width="1" />
<line x1="281.5" y1="856" x2="285.5" y2="856" stroke="#333" stroke-width="1" />
<line x1="625.5" y1="856" x2="629.5" y2="856" stroke="#333" stroke-width="1" />
<line x1="281.5" y1="868" x2="285.5" y2="868" stroke="#333" stroke-width="1" />
<line x1="625.5" y1="868" x2="629.5" y2="868" stroke="#333" stroke-width="1" />
<line x1="281.5" y1="880" x2="285.5" y2="880" stroke="#333" stroke-width="1" />
<line x1="625.5" y1="880" x2="629.5" y2="880" stroke="#333" stroke-width="1" />
<line x1="281.5" y1="892" x2="285.5" y2="892" stroke="#333" stroke-width="1" />
<line x1="625.5" y1="892" x2="629.5" y2="892" stroke="#333" stroke-width="1" />
<line x1="281.5" y1="904" x2="285.5" y2="904" stroke="#333" stroke-width="1" />
<line x1="625.5" y1="904" x2="629.5" y2="904" stroke="#333" stroke-width="1" />
<line x1="281.5" y1="916" x2="285.5" y2="916" stroke="#333" stroke-width="1" />
<line x1="625.5" y1="916" x2="629.5" y2="916" stroke="#333" stroke-width="1" />
<line x1="281.5" y1="928" x2="285.5" y2="928" stroke="#333" stroke-width="1" />
<line x1="625.5" y1="928" x2="629.5" y2="928" stroke="#333" stroke-width="1" />
<line x1="281.5" y1="940" x2="285.5" y2="940" stroke="#333" stroke-width="1" />
<line x1="625.5" y1="940" x2="629.5" y2="940" stroke="#333" stroke-width="1" />
<line x1="281.5" y1="952" x2="285.5" y2="952" stroke="#333" stroke-width="1" />
<line x1="625.5" y1="952" x2="629.5" y2="952" stroke="#333" stroke-width="1" />
<line x1="281.5" y1="964" x2="285.5" y2="964" stroke="#333" stroke-width="1" />
<line x1="625.5" y1="964" x2="629.5" y2="964" stroke="#333" stroke-width="1" />
<line x1="281.5" y1="976" x2="285.5" y2="976" stroke="#333" stroke-width="1" />
<line x1="625.5" y1="976" x2="629.5" y2="976" stroke="#333" stroke-width="1" />
<line x1="281.5" y1="988" x2="285.5" y2="988" stroke="#333" stroke-width="1" />
<line x1="625.5" y1="988" x2="629.5" y2="988" stroke="#333" stroke-width="1" />
<line x1="281.5" y1="1000" x2="285.5" y2="1000" stroke="#333" stroke-width="1" />
<line x1="625.5" y1="1000" x2="629.5" y2="1000" stroke="#333" stroke-width="1" />
<rect x="301" y="766" width="308" height="232.7" fill="url(#sand)"/>
<polyline points="292.8,751 292.8,758.5 300.7,758.5 300.7,1007 292.8,1007 292.8,1014" stroke="#000" stroke-width="2" fill="none" />
<polyline points="618,751 618,759 609,759 609,1006.5 617.5,1006.5 617.5,1014" stroke="#000" stroke-width="1.8" fill="none" />
<line x1="301" y1="766" x2="609" y2="766" stroke="#000" stroke-width="1.8" />
<line x1="301" y1="998.7" x2="609" y2="998.7" stroke="#000" stroke-width="1.8" />
<rect x="339.4" y="794.25" width="229.2" height="176.5" stroke="#000" stroke-width="2.2" fill="#fff" />
<line x1="339" y1="804.75" x2="416" y2="804.75" stroke="#000" stroke-width="2" />
<line x1="339" y1="960.4" x2="416" y2="960.4" stroke="#000" stroke-width="2" />
<ellipse cx="423.25" cy="801.7" rx="5.2" ry="2.2" fill="#111"/>
<ellipse cx="423.25" cy="964.1" rx="5.2" ry="2.2" fill="#111"/>
<rect x="415.6" y="802.75" width="155.65" height="160.35" stroke="#000" stroke-width="2.5" fill="#355d2a" />
<rect x="525.8" y="875" width="16" height="15.8" stroke="#000" stroke-width="2" fill="none" />
<rect x="326.3" y="820.3" width="12.7" height="14.7" stroke="#000" stroke-width="2.2" fill="#fff" />
<line x1="327" y1="827.5" x2="338" y2="827.5" stroke="#888" stroke-width="0.8" />
<rect x="572.5" y="913.3" width="11.8" height="16.3" stroke="#000" stroke-width="2.2" fill="#fff" />
<line x1="573" y1="921.5" x2="583" y2="921.5" stroke="#999" stroke-width="0.8" />
<line x1="247.5" y1="739" x2="247.5" y2="1026" stroke="#000" stroke-width="1.6" />
<line x1="239.5" y1="746" x2="281" y2="746" stroke="#000" stroke-width="1.65" />
<line x1="239.5" y1="1018.7" x2="281" y2="1018.7" stroke="#000" stroke-width="1.65" />
<line x1="242.9" y1="741.4" x2="252.1" y2="750.6" stroke="#000" stroke-width="2.2" />
<line x1="242.9" y1="1014.1" x2="252.1" y2="1023.3" stroke="#000" stroke-width="2.2" />
<line x1="281" y1="1018.7" x2="281" y2="1060" stroke="#000" stroke-width="1.65" />
<line x1="629.5" y1="1018.7" x2="629.5" y2="1060" stroke="#000" stroke-width="1.65" />
<line x1="273" y1="1052.5" x2="637.5" y2="1052.5" stroke="#000" stroke-width="1.5" />
<line x1="276.4" y1="1057.1" x2="285.6" y2="1047.9" stroke="#000" stroke-width="2.2" />
<line x1="624.9" y1="1057.1" x2="634.1" y2="1047.9" stroke="#000" stroke-width="2.2" />
<line x1="122.5" y1="792.5" x2="217.5" y2="792.5" stroke="#000" stroke-width="1.65" />
<line x1="217.5" y1="792.5" x2="325.5" y2="827" stroke="#000" stroke-width="1.6" />
<polygon points="325.5,827 317.271,826.471 318.488,822.66" stroke="#000" stroke-width="0.5" fill="#000" />
<line x1="662" y1="747.5" x2="835" y2="747.5" stroke="#000" stroke-width="1.65" />
<line x1="662" y1="747.5" x2="631" y2="789" stroke="#000" stroke-width="1.9" />
<polygon points="631,789 634.543,780.413 638.229,783.166" stroke="#000" stroke-width="0.5" fill="#000" />
<line x1="662" y1="889" x2="782" y2="889" stroke="#000" stroke-width="1.65" />
<line x1="662" y1="889" x2="585" y2="920.5" stroke="#000" stroke-width="1.6" />
<polygon points="585,920.5 591.647,915.62 593.162,919.322" stroke="#000" stroke-width="0.5" fill="#000" />
<line x1="662" y1="999" x2="863.7" y2="999" stroke="#000" stroke-width="1.65" />
<line x1="662" y1="999" x2="627.5" y2="965" stroke="#000" stroke-width="1.8" />
<polygon points="627.5,965 635.454,969.75 632.366,972.884" stroke="#000" stroke-width="0.5" fill="#000" />
<line x1="875.3" y1="881" x2="875.3" y2="1090.5" stroke="#000" stroke-width="2.6" />
<line x1="874" y1="882.3" x2="1576" y2="882.3" stroke="#000" stroke-width="2.6" />
<line x1="950.8" y1="882.3" x2="950.8" y2="977" stroke="#000" stroke-width="3" />
<line x1="950.8" y1="977" x2="950.8" y2="1090.5" stroke="#000" stroke-width="2.6" />
<line x1="1026.7" y1="882.3" x2="1026.7" y2="977" stroke="#000" stroke-width="3" />
<line x1="1026.7" y1="977" x2="1026.7" y2="1090.5" stroke="#000" stroke-width="2.6" />
<line x1="1083.5" y1="882.3" x2="1083.5" y2="977" stroke="#000" stroke-width="3" />
<line x1="1083.5" y1="977" x2="1083.5" y2="1090.5" stroke="#000" stroke-width="2.6" />
<line x1="1121.7" y1="882.3" x2="1121.7" y2="977" stroke="#000" stroke-width="3" />
<line x1="1121.7" y1="977" x2="1121.7" y2="1090.5" stroke="#000" stroke-width="2.6" />
<line x1="912.6" y1="882.3" x2="912.6" y2="977" stroke="#000" stroke-width="3.1" />
<line x1="988.8" y1="882.3" x2="988.8" y2="977" stroke="#000" stroke-width="3.1" />
<line x1="875.3" y1="901" x2="1121.7" y2="901" stroke="#000" stroke-width="2.3" />
<line x1="875.3" y1="920.2" x2="1121.7" y2="920.2" stroke="#000" stroke-width="2" />
<line x1="875.3" y1="939.2" x2="1121.7" y2="939.2" stroke="#000" stroke-width="2.3" />
<line x1="875.3" y1="957.7" x2="1121.7" y2="957.7" stroke="#000" stroke-width="3.4" />
<line x1="875.3" y1="977" x2="1576" y2="977" stroke="#000" stroke-width="2.7" />
<line x1="875.3" y1="995.8" x2="1121.7" y2="995.8" stroke="#000" stroke-width="2.1" />
<line x1="875.3" y1="1014.8" x2="1121.7" y2="1014.8" stroke="#000" stroke-width="1.7" />
<line x1="875.3" y1="1033.4" x2="1121.7" y2="1033.4" stroke="#000" stroke-width="1.5" />
<line x1="875.3" y1="1052.4" x2="1121.7" y2="1052.4" stroke="#000" stroke-width="2" />
<line x1="875.3" y1="1071.3" x2="1121.7" y2="1071.3" stroke="#000" stroke-width="1.5" />
<line x1="1121.7" y1="920.2" x2="1576" y2="920.2" stroke="#000" stroke-width="2.4" />
<line x1="1121.7" y1="1033.5" x2="1576" y2="1033.5" stroke="#000" stroke-width="3" />
<line x1="1386" y1="977" x2="1386" y2="1090.5" stroke="#000" stroke-width="2.6" />
<line x1="1443" y1="977" x2="1443" y2="1033.7" stroke="#000" stroke-width="2.4" />
<line x1="1500" y1="977" x2="1500" y2="1033.7" stroke="#000" stroke-width="2.4" />
<line x1="1386" y1="995.3" x2="1576" y2="995.3" stroke="#000" stroke-width="2.4" />
<g filter="url(#gray)">
<text class="tb" x="105.7" y="141" font-size="15.2" textLength="31.3" lengthAdjust="spacingAndGlyphs" >0,000</text>
<text class="tb" x="105.7" y="158" font-size="15.2" textLength="26.3" lengthAdjust="spacingAndGlyphs" >отм.</text>
<text class="tb" x="136.2" y="158" font-size="15.2" textLength="42.1" lengthAdjust="spacingAndGlyphs" >уровня</text>
<text class="tb" x="182.5" y="158" font-size="15.2" textLength="41.2" lengthAdjust="spacingAndGlyphs" >земли<tspan dy="-5.2" font-size="10.5" letter-spacing="1.1" stroke-width="0">•</tspan></text>
<text class="tb" x="184" y="483" font-size="15.2" textLength="39" lengthAdjust="spacingAndGlyphs" >–2,250</text>
<text class="tb" x="184" y="551" font-size="15.2" textLength="39" lengthAdjust="spacingAndGlyphs" >–2,400</text>
<text class="tb" transform="translate(244,226) rotate(-90)" x="0" y="0" font-size="15.2" textLength="49.5" lengthAdjust="spacingAndGlyphs">850–450</text>
<text class="tb" transform="translate(244,401) rotate(-90)" x="0" y="0" font-size="15.2" textLength="58.5" lengthAdjust="spacingAndGlyphs">1400–1800</text>
<text class="tb" transform="translate(664,223) rotate(-90)" x="0" y="0" font-size="15.2" textLength="20.5" lengthAdjust="spacingAndGlyphs">600</text>
<text class="tb" transform="translate(664,395) rotate(-90)" x="0" y="0" font-size="15.2" textLength="25" lengthAdjust="spacingAndGlyphs">1650</text>
<text class="tb" x="364.5" y="573" font-size="15.2" textLength="43.3" lengthAdjust="spacingAndGlyphs" >Размер</text>
<text class="tb" x="412" y="573" font-size="15.2" textLength="68.3" lengthAdjust="spacingAndGlyphs" >котлована</text>
<text class="tb" x="484.5" y="573" font-size="15.2" textLength="61" lengthAdjust="spacingAndGlyphs" >2300х1800</text>
<text class="tb" x="395" y="525" font-size="15.2" textLength="58.8" lengthAdjust="spacingAndGlyphs" >Песчаная</text>
<text class="tb" x="458" y="525" font-size="15.2" textLength="55.7" lengthAdjust="spacingAndGlyphs" >подсыпка</text>
<text class="tm" x="419.5" y="107" font-size="16.2" textLength="71" lengthAdjust="spacingAndGlyphs" >Вид сбоку</text>
<text class="tb" x="634.4" y="125" font-size="15.2" textLength="28.9" lengthAdjust="spacingAndGlyphs" >Ввод</text>
<text class="tb" x="667.5" y="125" font-size="15.2" textLength="16.4" lengthAdjust="spacingAndGlyphs" >эл.</text>
<text class="tb" x="688.1" y="125" font-size="15.2" textLength="41.9" lengthAdjust="spacingAndGlyphs" >кабеля</text>
<text class="tb" x="131.3" y="258.4" font-size="15.2" textLength="29.5" lengthAdjust="spacingAndGlyphs" >Вход</text>
<text class="tb" x="165" y="258.4" font-size="15.2" textLength="48.8" lengthAdjust="spacingAndGlyphs" >сточной</text>
<text class="tb" x="159" y="275" font-size="15.2" textLength="28" lengthAdjust="spacingAndGlyphs" >воды</text>
<text class="tb" x="688.7" y="282" font-size="15.2" textLength="37.1" lengthAdjust="spacingAndGlyphs" >Выход</text>
<text class="tb" x="730" y="282" font-size="15.2" textLength="66.2" lengthAdjust="spacingAndGlyphs" >очищенной</text>
<text class="tb" x="728" y="299.5" font-size="15.2" textLength="29" lengthAdjust="spacingAndGlyphs" >воды</text>
<text class="tb" x="698.1" y="483" font-size="15.2" textLength="72.4" lengthAdjust="spacingAndGlyphs" >Деревянная</text>
<text class="tb" x="774.7" y="483" font-size="15.2" textLength="57" lengthAdjust="spacingAndGlyphs" >опалубка</text>
<text class="tb" x="685.3" y="499.5" font-size="15.2" textLength="34.4" lengthAdjust="spacingAndGlyphs" >доска</text>
<text class="tb" x="723.9" y="499.5" font-size="15.2" textLength="56.7" lengthAdjust="spacingAndGlyphs" >обрезная</text>
<text class="tb" x="784.8" y="499.5" font-size="15.2" textLength="39.6" lengthAdjust="spacingAndGlyphs" >150х40</text>
<text class="tb" x="828.6" y="499.5" font-size="15.2" textLength="16.4" lengthAdjust="spacingAndGlyphs" >мм</text>
<text class="tb" x="944" y="189.5" font-size="15.2" textLength="64" lengthAdjust="spacingAndGlyphs" >100–800<tspan dy="-5.2" font-size="10.5" letter-spacing="1.1" stroke-width="0">•••</tspan></text>
<text class="tb" transform="translate(880,301) rotate(-90)" x="0" y="0" font-size="15.2" textLength="48.5" lengthAdjust="spacingAndGlyphs">100–400</text>
<text class="tb" x="904" y="168" font-size="15.2" textLength="5" lengthAdjust="spacingAndGlyphs" >1</text>
<text class="tb" x="849.5" y="215" font-size="15.2" textLength="6.5" lengthAdjust="spacingAndGlyphs" >2</text>
<text class="tb" x="1148.5" y="276.5" font-size="15.2" textLength="6.5" lengthAdjust="spacingAndGlyphs" >3</text>
<text class="tb" transform="translate(1155,352.5) rotate(-90)" x="0" y="0" font-size="15.2" textLength="21.5" lengthAdjust="spacingAndGlyphs">260</text>
<text class="tb" transform="translate(1178.3,302.5) rotate(-90)" x="0" y="0" font-size="15.2" textLength="23.5" lengthAdjust="spacingAndGlyphs">1170</text>
<text class="tb" x="1009" y="389" font-size="15.2" textLength="25" lengthAdjust="spacingAndGlyphs" >1630</text>
<text class="tm" x="997.5" y="254" font-size="17" textLength="10.5" lengthAdjust="spacingAndGlyphs" >A</text>
<text class="tm" x="998" y="340" font-size="17" textLength="9.5" lengthAdjust="spacingAndGlyphs" >B</text>
<text class="tm" x="1080.5" y="242" font-size="17" textLength="9" lengthAdjust="spacingAndGlyphs" >D</text>
<text class="tm" x="1079" y="297.5" font-size="17" textLength="7.5" lengthAdjust="spacingAndGlyphs" >E</text>
<text class="tm" x="1085" y="356" font-size="17" textLength="7.5" lengthAdjust="spacingAndGlyphs" >C</text>
<text class="tm" x="978" y="147" font-size="17.5" textLength="69" lengthAdjust="spacingAndGlyphs" >Схема №1</text>
<text class="tm" x="1208.7" y="147.5" font-size="17.5" textLength="90" lengthAdjust="spacingAndGlyphs" >Габаритные</text>
<text class="tm" x="1303.7" y="147.5" font-size="17.5" textLength="61.3" lengthAdjust="spacingAndGlyphs" >размеры</text>
<text class="tm" x="1370" y="147.5" font-size="17.5" textLength="48.7" lengthAdjust="spacingAndGlyphs" >ТОПАС</text>
<text class="tm" x="1423.7" y="147.5" font-size="17.5" textLength="25" lengthAdjust="spacingAndGlyphs" >8<tspan dy="-6.8" font-size="10.5" letter-spacing="1.1" stroke-width="0">••</tspan><tspan dy="6.8">:</tspan></text>
<text class="tm" x="1209" y="185.5" font-size="17" textLength="45" lengthAdjust="spacingAndGlyphs" >Длина</text>
<text class="tm" x="1345.7" y="185.5" font-size="17" textLength="30.5" lengthAdjust="spacingAndGlyphs" >1630</text>
<text class="tm" x="1381.2" y="185.5" font-size="17" textLength="23.3" lengthAdjust="spacingAndGlyphs" >мм;</text>
<text class="tm" x="1209" y="204.5" font-size="17" textLength="53.5" lengthAdjust="spacingAndGlyphs" >Ширина</text>
<text class="tm" x="1345.7" y="204.5" font-size="17" textLength="28.5" lengthAdjust="spacingAndGlyphs" >1170</text>
<text class="tm" x="1379.2" y="204.5" font-size="17" textLength="22.8" lengthAdjust="spacingAndGlyphs" >мм;</text>
<text class="tm" x="1209" y="224" font-size="17" textLength="53.5" lengthAdjust="spacingAndGlyphs" >Высота</text>
<text class="tm" x="1345.7" y="224" font-size="17" textLength="33" lengthAdjust="spacingAndGlyphs" >2500</text>
<text class="tm" x="1383.7" y="224" font-size="17" textLength="23.3" lengthAdjust="spacingAndGlyphs" >мм;</text>
<text class="tm" x="1209" y="243" font-size="17" textLength="29.7" lengthAdjust="spacingAndGlyphs" >Вес,</text>
<text class="tm" x="1243.7" y="243" font-size="17" textLength="37.5" lengthAdjust="spacingAndGlyphs" >макс.</text>
<text class="tm" x="1345.7" y="243" font-size="17" textLength="24.3" lengthAdjust="spacingAndGlyphs" >350</text>
<text class="tm" x="1375" y="243" font-size="17" textLength="19.5" lengthAdjust="spacingAndGlyphs" >кг.</text>
<text class="tm" x="1208.7" y="281" font-size="17" textLength="98.8" lengthAdjust="spacingAndGlyphs" >A – приемная</text>
<text class="tm" x="1312.5" y="281" font-size="17" textLength="58.7" lengthAdjust="spacingAndGlyphs" >камера;</text>
<text class="tm" x="1208.7" y="300.5" font-size="17" textLength="103" lengthAdjust="spacingAndGlyphs" >B – аэротенк;</text>
<text class="tm" x="1208.7" y="319.5" font-size="17" textLength="106.3" lengthAdjust="spacingAndGlyphs" >C – вторичный</text>
<text class="tm" x="1320" y="319.5" font-size="17" textLength="83.2" lengthAdjust="spacingAndGlyphs" >отстойник;</text>
<text class="tm" x="1208.7" y="339" font-size="17" textLength="134.3" lengthAdjust="spacingAndGlyphs" >D – стабилизатор</text>
<text class="tm" x="1348" y="339" font-size="17" textLength="78.2" lengthAdjust="spacingAndGlyphs" >активного</text>
<text class="tm" x="1431.2" y="339" font-size="17" textLength="30.8" lengthAdjust="spacingAndGlyphs" >ила;</text>
<text class="tm" x="1208.7" y="358" font-size="17" textLength="136.3" lengthAdjust="spacingAndGlyphs" >E – компрессорный</text>
<text class="tm" x="1350" y="358" font-size="17" textLength="46.2" lengthAdjust="spacingAndGlyphs" >отсек.</text>
<text class="tb" x="904.9" y="429" font-size="15.2" textLength="95.5" lengthAdjust="spacingAndGlyphs" >1, 2 – варианты</text>
<text class="tb" x="1004.6" y="429" font-size="15.2" textLength="39" lengthAdjust="spacingAndGlyphs" >входа</text>
<text class="tb" x="1047.8" y="429" font-size="15.2" textLength="44" lengthAdjust="spacingAndGlyphs" >стоков</text>
<text class="tb" x="1096" y="429" font-size="15.2" textLength="30.8" lengthAdjust="spacingAndGlyphs" >(ввод</text>
<text class="tb" x="1131" y="429" font-size="15.2" textLength="36.3" lengthAdjust="spacingAndGlyphs" >трубы</text>
<text class="tb" x="1171.5" y="429" font-size="15.2" textLength="82.3" lengthAdjust="spacingAndGlyphs" >монтируется</text>
<text class="tb" x="1258" y="429" font-size="15.2" textLength="20.4" lengthAdjust="spacingAndGlyphs" >при</text>
<text class="tb" x="1282.6" y="429" font-size="15.2" textLength="59.5" lengthAdjust="spacingAndGlyphs" >монтаже,</text>
<text class="tb" x="1346.3" y="429" font-size="15.2" textLength="30.6" lengthAdjust="spacingAndGlyphs" >либо,</text>
<text class="tb" x="1381.1" y="429" font-size="15.2" textLength="71.2" lengthAdjust="spacingAndGlyphs" >по желанию</text>
<text class="tb" x="1456.5" y="429" font-size="15.2" textLength="87.3" lengthAdjust="spacingAndGlyphs" >заказчика, на</text>
<text class="tb" x="876.3" y="445.5" font-size="15.2" textLength="42.4" lengthAdjust="spacingAndGlyphs" >заводе</text>
<text class="tb" x="922.9" y="445.5" font-size="15.2" textLength="86.9" lengthAdjust="spacingAndGlyphs" >изготовителя</text>
<text class="tb" x="1014" y="445.5" font-size="15.2" textLength="103.4" lengthAdjust="spacingAndGlyphs" >(в соответствии</text>
<text class="tb" x="1121.6" y="445.5" font-size="15.2" textLength="79.7" lengthAdjust="spacingAndGlyphs" >с размерами,</text>
<text class="tb" x="1205.5" y="445.5" font-size="15.2" textLength="76.9" lengthAdjust="spacingAndGlyphs" >указанными</text>
<text class="tb" x="1286.6" y="445.5" font-size="15.2" textLength="50.5" lengthAdjust="spacingAndGlyphs" >в заявке</text>
<text class="tb" x="1341.3" y="445.5" font-size="15.2" textLength="68" lengthAdjust="spacingAndGlyphs" >на врезку);</text>
<text class="tb" x="904.9" y="462" font-size="15.2" textLength="57.7" lengthAdjust="spacingAndGlyphs" >3 – выход</text>
<text class="tb" x="966.8" y="462" font-size="15.2" textLength="64.4" lengthAdjust="spacingAndGlyphs" >очищенной</text>
<text class="tb" x="1035.4" y="462" font-size="15.2" textLength="30" lengthAdjust="spacingAndGlyphs" >воды</text>
<text class="tb" x="1069.6" y="462" font-size="15.2" textLength="40.2" lengthAdjust="spacingAndGlyphs" >(труба</text>
<text class="tb" x="1114" y="462" font-size="15.2" textLength="27.4" lengthAdjust="spacingAndGlyphs" >∅110</text>
<text class="tb" x="1145.6" y="462" font-size="15.2" textLength="80.6" lengthAdjust="spacingAndGlyphs" >монтируется</text>
<text class="tb" x="1230.4" y="462" font-size="15.2" textLength="67.5" lengthAdjust="spacingAndGlyphs" >на заводе).</text>
<text class="tb" x="904.9" y="494.5" font-size="15.2" textLength="68.9" lengthAdjust="spacingAndGlyphs" >Монтажные</text>
<text class="tb" x="978" y="494.5" font-size="15.2" textLength="70.1" lengthAdjust="spacingAndGlyphs" >и земляные</text>
<text class="tb" x="1052.3" y="494.5" font-size="15.2" textLength="45.7" lengthAdjust="spacingAndGlyphs" >работы</text>
<text class="tb" x="1102.2" y="494.5" font-size="15.2" textLength="64" lengthAdjust="spacingAndGlyphs" >проводить</text>
<text class="tb" x="1170.4" y="494.5" font-size="15.2" textLength="55.8" lengthAdjust="spacingAndGlyphs" >согласно</text>
<text class="tb" x="1230.4" y="494.5" font-size="15.2" textLength="101.4" lengthAdjust="spacingAndGlyphs" >СП 129.13330.2011</text>
<text class="tb" x="1336" y="494.5" font-size="15.2" textLength="66.4" lengthAdjust="spacingAndGlyphs" >“Наружные</text>
<text class="tb" x="1406.6" y="494.5" font-size="15.2" textLength="28.4" lengthAdjust="spacingAndGlyphs" >сети</text>
<text class="tb" x="1439.2" y="494.5" font-size="15.2" textLength="82.6" lengthAdjust="spacingAndGlyphs" >и сооружения</text>
<text class="tb" x="876.3" y="510.5" font-size="15.2" textLength="94.1" lengthAdjust="spacingAndGlyphs" >водоснабжения</text>
<text class="tb" x="974.6" y="510.5" font-size="15.2" textLength="99" lengthAdjust="spacingAndGlyphs" >и канализации”.</text>
<text class="tb" x="904.9" y="693.7" font-size="15.2" textLength="23.5" lengthAdjust="spacingAndGlyphs" >ПРИ</text>
<text class="tb" x="932.6" y="693.7" font-size="15.2" textLength="59.2" lengthAdjust="spacingAndGlyphs" >МОНТАЖЕ</text>
<text class="tb" x="996" y="693.7" font-size="15.2" textLength="66" lengthAdjust="spacingAndGlyphs" >ОБРАТИТЬ</text>
<text class="tb" x="1066.2" y="693.7" font-size="15.2" textLength="44.9" lengthAdjust="spacingAndGlyphs" >ОСОБОЕ</text>
<text class="tb" x="1115.3" y="693.7" font-size="15.2" textLength="68.6" lengthAdjust="spacingAndGlyphs" >ВНИМАНИЕ:</text>
<text class="tb" x="904.9" y="710" font-size="15.2" textLength="73.4" lengthAdjust="spacingAndGlyphs" >Разработку</text>
<text class="tb" x="982.5" y="710" font-size="15.2" textLength="67.8" lengthAdjust="spacingAndGlyphs" >котлована</text>
<text class="tb" x="1054.5" y="710" font-size="15.2" textLength="78.6" lengthAdjust="spacingAndGlyphs" >производить</text>
<text class="tb" x="1137.3" y="710" font-size="15.2" textLength="19.9" lengthAdjust="spacingAndGlyphs" >при</text>
<text class="tb" x="1161.4" y="710" font-size="15.2" textLength="48.3" lengthAdjust="spacingAndGlyphs" >условии</text>
<text class="tb" x="1213.9" y="710" font-size="15.2" textLength="69.7" lengthAdjust="spacingAndGlyphs" >соблюдения</text>
<text class="tb" x="1287.8" y="710" font-size="15.2" textLength="43" lengthAdjust="spacingAndGlyphs" >правил</text>
<text class="tb" x="1335" y="710" font-size="15.2" textLength="50.9" lengthAdjust="spacingAndGlyphs" >техники</text>
<text class="tb" x="1390.1" y="710" font-size="15.2" textLength="84.7" lengthAdjust="spacingAndGlyphs" >безопасности</text>
<text class="tb" x="1479" y="710" font-size="15.2" textLength="69.8" lengthAdjust="spacingAndGlyphs" >проведения</text>
<text class="tb" x="876.3" y="725.7" font-size="15.2" textLength="57" lengthAdjust="spacingAndGlyphs" >земляных</text>
<text class="tb" x="937.5" y="725.7" font-size="15.2" textLength="41.9" lengthAdjust="spacingAndGlyphs" >работ,</text>
<text class="tb" x="983.6" y="725.7" font-size="15.2" textLength="88.1" lengthAdjust="spacingAndGlyphs" >с соблюдением</text>
<text class="tb" x="1075.9" y="725.7" font-size="15.2" textLength="73" lengthAdjust="spacingAndGlyphs" >требований</text>
<text class="tb" x="1153.1" y="725.7" font-size="15.2" textLength="79.8" lengthAdjust="spacingAndGlyphs" >действующей</text>
<text class="tb" x="1237.1" y="725.7" font-size="15.2" textLength="80.9" lengthAdjust="spacingAndGlyphs" >нормативной</text>
<text class="tb" x="1322.2" y="725.7" font-size="15.2" textLength="92.3" lengthAdjust="spacingAndGlyphs" >документации.</text>
<text class="tb" x="1418.7" y="725.7" font-size="15.2" textLength="48.2" lengthAdjust="spacingAndGlyphs" >Монтаж</text>
<text class="tb" x="1471.1" y="725.7" font-size="15.2" textLength="51.8" lengthAdjust="spacingAndGlyphs" >станции</text>
<text class="tb" x="876.3" y="741.7" font-size="15.2" textLength="77.7" lengthAdjust="spacingAndGlyphs" >производить</text>
<text class="tb" x="958.2" y="741.7" font-size="15.2" textLength="76.8" lengthAdjust="spacingAndGlyphs" >на песчаную</text>
<text class="tb" x="1039.2" y="741.7" font-size="15.2" textLength="59.5" lengthAdjust="spacingAndGlyphs" >подсыпку,</text>
<text class="tb" x="1102.9" y="741.7" font-size="15.2" textLength="53.2" lengthAdjust="spacingAndGlyphs" >станцию</text>
<text class="tb" x="1160.3" y="741.7" font-size="15.2" textLength="90.6" lengthAdjust="spacingAndGlyphs" >не подвергать</text>
<text class="tb" x="1255.1" y="741.7" font-size="15.2" textLength="48.3" lengthAdjust="spacingAndGlyphs" >ударам,</text>
<text class="tb" x="1307.6" y="741.7" font-size="15.2" textLength="48.4" lengthAdjust="spacingAndGlyphs" >обсыпку</text>
<text class="tb" x="1360.2" y="741.7" font-size="15.2" textLength="78.6" lengthAdjust="spacingAndGlyphs" >производить</text>
<text class="tb" x="1443" y="741.7" font-size="15.2" textLength="43.1" lengthAdjust="spacingAndGlyphs" >вместе</text>
<text class="tb" x="1490.3" y="741.7" font-size="15.2" textLength="65.7" lengthAdjust="spacingAndGlyphs" >с заливкой</text>
<text class="tb" x="876.3" y="757.5" font-size="15.2" textLength="85.1" lengthAdjust="spacingAndGlyphs" >одновременно</text>
<text class="tb" x="965.6" y="757.5" font-size="15.2" textLength="20.6" lengthAdjust="spacingAndGlyphs" >для</text>
<text class="tb" x="990.4" y="757.5" font-size="15.2" textLength="79" lengthAdjust="spacingAndGlyphs" >компенсации</text>
<text class="tb" x="1073.6" y="757.5" font-size="15.2" textLength="79.8" lengthAdjust="spacingAndGlyphs" >внутреннего</text>
<text class="tb" x="1157.6" y="757.5" font-size="15.2" textLength="68.6" lengthAdjust="spacingAndGlyphs" >и внешнего</text>
<text class="tb" x="1230.4" y="757.5" font-size="15.2" textLength="59.2" lengthAdjust="spacingAndGlyphs" >давления.</text>
<text class="tb" x="904.9" y="786" font-size="15.2" textLength="26.8" lengthAdjust="spacingAndGlyphs" ><tspan dy="-5.2" font-size="10.5" letter-spacing="1.1" stroke-width="0">•</tspan><tspan dy="5.2">При</tspan></text>
<text class="tb" x="935.9" y="786" font-size="15.2" textLength="77.3" lengthAdjust="spacingAndGlyphs" >определении</text>
<text class="tb" x="1017.4" y="786" font-size="15.2" textLength="54.3" lengthAdjust="spacingAndGlyphs" >отметки</text>
<text class="tb" x="1075.9" y="786" font-size="15.2" textLength="41.9" lengthAdjust="spacingAndGlyphs" >уровня</text>
<text class="tb" x="1122" y="786" font-size="15.2" textLength="35.7" lengthAdjust="spacingAndGlyphs" >земли</text>
<text class="tb" x="1161.9" y="786" font-size="15.2" textLength="94.7" lengthAdjust="spacingAndGlyphs" >предусмотреть</text>
<text class="tb" x="1260.8" y="786" font-size="15.2" textLength="50.9" lengthAdjust="spacingAndGlyphs" >будущее</text>
<text class="tb" x="1315.9" y="786" font-size="15.2" textLength="107.2" lengthAdjust="spacingAndGlyphs" >благоустройство</text>
<text class="tb" x="1427.3" y="786" font-size="15.2" textLength="56.1" lengthAdjust="spacingAndGlyphs" >участка,</text>
<text class="tb" x="1487.6" y="786" font-size="15.2" textLength="66.1" lengthAdjust="spacingAndGlyphs" >возможные</text>
<text class="tb" x="876.3" y="802.5" font-size="15.2" textLength="86.3" lengthAdjust="spacingAndGlyphs" >ландшафтные</text>
<text class="tb" x="966.8" y="802.5" font-size="15.2" textLength="45.3" lengthAdjust="spacingAndGlyphs" >работы</text>
<text class="tb" x="1016.3" y="802.5" font-size="15.2" textLength="55.4" lengthAdjust="spacingAndGlyphs" >(которые</text>
<text class="tb" x="1075.9" y="802.5" font-size="15.2" textLength="38.1" lengthAdjust="spacingAndGlyphs" >могут</text>
<text class="tb" x="1118.2" y="802.5" font-size="15.2" textLength="57" lengthAdjust="spacingAndGlyphs" >привести</text>
<text class="tb" x="1179.4" y="802.5" font-size="15.2" textLength="76" lengthAdjust="spacingAndGlyphs" >к изменению</text>
<text class="tb" x="1259.6" y="802.5" font-size="15.2" textLength="54.3" lengthAdjust="spacingAndGlyphs" >отметки</text>
<text class="tb" x="1318.1" y="802.5" font-size="15.2" textLength="41.5" lengthAdjust="spacingAndGlyphs" >уровня</text>
<text class="tb" x="1363.8" y="802.5" font-size="15.2" textLength="41.4" lengthAdjust="spacingAndGlyphs" >земли).</text>
<text class="tb" x="904.9" y="818.7" font-size="15.2" textLength="104.9" lengthAdjust="spacingAndGlyphs" ><tspan dy="-5.2" font-size="10.5" letter-spacing="1.1" stroke-width="0">••</tspan><tspan dy="5.2">Производитель</tspan></text>
<text class="tb" x="1014" y="818.7" font-size="15.2" textLength="39.7" lengthAdjust="spacingAndGlyphs" >может</text>
<text class="tb" x="1057.9" y="818.7" font-size="15.2" textLength="58.8" lengthAdjust="spacingAndGlyphs" >изменить</text>
<text class="tb" x="1120.9" y="818.7" font-size="15.2" textLength="58.8" lengthAdjust="spacingAndGlyphs" >габариты</text>
<text class="tb" x="1183.9" y="818.7" font-size="15.2" textLength="64.1" lengthAdjust="spacingAndGlyphs" >продукции</text>
<text class="tb" x="1252.2" y="818.7" font-size="15.2" textLength="20.1" lengthAdjust="spacingAndGlyphs" >без</text>
<text class="tb" x="1276.5" y="818.7" font-size="15.2" textLength="79.9" lengthAdjust="spacingAndGlyphs" >уведомления.</text>
<text class="tb" x="904.9" y="834.5" font-size="15.2" textLength="38.5" lengthAdjust="spacingAndGlyphs" ><tspan dy="-5.2" font-size="10.5" letter-spacing="1.1" stroke-width="0">•••</tspan><tspan dy="5.2">При</tspan></text>
<text class="tb" x="947.6" y="834.5" font-size="15.2" textLength="71.2" lengthAdjust="spacingAndGlyphs" >выполнении</text>
<text class="tb" x="1023" y="834.5" font-size="15.2" textLength="41.9" lengthAdjust="spacingAndGlyphs" >врезки</text>
<text class="tb" x="1069.1" y="834.5" font-size="15.2" textLength="42" lengthAdjust="spacingAndGlyphs" >учесть</text>
<text class="tb" x="1115.3" y="834.5" font-size="15.2" textLength="72.3" lengthAdjust="spacingAndGlyphs" >внутренний</text>
<text class="tb" x="1191.8" y="834.5" font-size="15.2" textLength="79.4" lengthAdjust="spacingAndGlyphs" >конструктив</text>
<text class="tb" x="1275.4" y="834.5" font-size="15.2" textLength="54.6" lengthAdjust="spacingAndGlyphs" >станции.</text>
<text class="tb" x="904.9" y="868" font-size="15.2" textLength="42.4" lengthAdjust="spacingAndGlyphs" >Расход</text>
<text class="tb" x="951.5" y="868" font-size="15.2" textLength="35.3" lengthAdjust="spacingAndGlyphs" >песка</text>
<text class="tb" x="991" y="868" font-size="15.2" textLength="55.8" lengthAdjust="spacingAndGlyphs" >не менее</text>
<text class="tb" x="1051" y="868" font-size="15.2" textLength="27.4" lengthAdjust="spacingAndGlyphs" >– 6,3</text>
<text class="tb" x="1082.6" y="868" font-size="15.2" textLength="15.4" lengthAdjust="spacingAndGlyphs" >м³,</text>
<text class="tb" x="1102.2" y="868" font-size="15.2" textLength="42.6" lengthAdjust="spacingAndGlyphs" >расход</text>
<text class="tb" x="1149" y="868" font-size="15.2" textLength="28.4" lengthAdjust="spacingAndGlyphs" >воды</text>
<text class="tb" x="1181.6" y="868" font-size="15.2" textLength="54.7" lengthAdjust="spacingAndGlyphs" >не менее</text>
<text class="tb" x="1240.5" y="868" font-size="15.2" textLength="28.4" lengthAdjust="spacingAndGlyphs" >– 2,2</text>
<text class="tb" x="1273.1" y="868" font-size="15.2" textLength="15.8" lengthAdjust="spacingAndGlyphs" >м³.</text>
<text class="tb" x="1057" y="551" font-size="15.2" textLength="63.3" lengthAdjust="spacingAndGlyphs" >Пояснение</text>
<text class="tb" x="1124.5" y="551" font-size="15.2" textLength="46.8" lengthAdjust="spacingAndGlyphs" >к схеме</text>
<text class="tb" x="1175.5" y="551" font-size="15.2" textLength="15" lengthAdjust="spacingAndGlyphs" >№1</text>
<text class="tb" x="1076.2" y="574" font-size="15.2" textLength="15.8" lengthAdjust="spacingAndGlyphs" >От</text>
<text class="tb" x="1096.2" y="574" font-size="15.2" textLength="23.3" lengthAdjust="spacingAndGlyphs" >дна</text>
<text class="tb" x="1123.7" y="574" font-size="15.2" textLength="63.3" lengthAdjust="spacingAndGlyphs" >установки</text>
<text class="tb" x="1191.2" y="574" font-size="15.2" textLength="14.3" lengthAdjust="spacingAndGlyphs" >до</text>
<text class="tb" x="1079.5" y="588" font-size="15.2" textLength="51.3" lengthAdjust="spacingAndGlyphs" >нижнего</text>
<text class="tb" x="1135" y="588" font-size="15.2" textLength="28.8" lengthAdjust="spacingAndGlyphs" >края</text>
<text class="tb" x="1168" y="588" font-size="15.2" textLength="37.5" lengthAdjust="spacingAndGlyphs" >трубы</text>
<text class="tb" x="1221.2" y="574" font-size="15.2" textLength="16.4" lengthAdjust="spacingAndGlyphs" >От</text>
<text class="tb" x="1241.2" y="574" font-size="15.2" textLength="78.2" lengthAdjust="spacingAndGlyphs" >поверхности</text>
<text class="tb" x="1323" y="574" font-size="15.2" textLength="44" lengthAdjust="spacingAndGlyphs" >грунта</text>
<text class="tb" x="1225" y="588" font-size="15.2" textLength="13.9" lengthAdjust="spacingAndGlyphs" >до</text>
<text class="tb" x="1242.5" y="588" font-size="15.2" textLength="50.9" lengthAdjust="spacingAndGlyphs" >нижнего</text>
<text class="tb" x="1297" y="588" font-size="15.2" textLength="28.9" lengthAdjust="spacingAndGlyphs" >края</text>
<text class="tb" x="1329.5" y="588" font-size="15.2" textLength="37.5" lengthAdjust="spacingAndGlyphs" >трубы</text>
<text class="tb" x="1095" y="611" font-size="15.2" textLength="19" lengthAdjust="spacingAndGlyphs" >min</text>
<text class="tb" x="1246.5" y="611" font-size="15.2" textLength="19" lengthAdjust="spacingAndGlyphs" >min</text>
<text class="tb" x="1168.5" y="611" font-size="15.2" textLength="24" lengthAdjust="spacingAndGlyphs" >max</text>
<text class="tb" x="1320" y="611" font-size="15.2" textLength="24" lengthAdjust="spacingAndGlyphs" >max</text>
<text class="tb" x="914.5" y="634" font-size="15.2" textLength="27.5" lengthAdjust="spacingAndGlyphs" >Вход</text>
<text class="tb" x="946.2" y="634" font-size="15.2" textLength="50.8" lengthAdjust="spacingAndGlyphs" >сточной</text>
<text class="tb" x="1001.2" y="634" font-size="15.2" textLength="28.8" lengthAdjust="spacingAndGlyphs" >воды</text>
<text class="tb" x="902.5" y="656" font-size="15.2" textLength="35.8" lengthAdjust="spacingAndGlyphs" >Выход</text>
<text class="tb" x="942.5" y="656" font-size="15.2" textLength="66.3" lengthAdjust="spacingAndGlyphs" >очищенной</text>
<text class="tb" x="1013" y="656" font-size="15.2" textLength="29" lengthAdjust="spacingAndGlyphs" >воды</text>
<text class="tb" x="1092" y="634" font-size="15.2" textLength="25.4" lengthAdjust="spacingAndGlyphs" >1400</text>
<text class="tb" x="1167.8" y="634" font-size="15.2" textLength="25.4" lengthAdjust="spacingAndGlyphs" >1800</text>
<text class="tb" x="1092" y="656" font-size="15.2" textLength="25.4" lengthAdjust="spacingAndGlyphs" >1650</text>
<text class="tb" x="1167.8" y="656" font-size="15.2" textLength="25.4" lengthAdjust="spacingAndGlyphs" >1650</text>
<text class="tb" x="1246" y="634" font-size="15.2" textLength="21" lengthAdjust="spacingAndGlyphs" >450</text>
<text class="tb" x="1321.7" y="634" font-size="15.2" textLength="21" lengthAdjust="spacingAndGlyphs" >850</text>
<text class="tb" x="1246" y="656" font-size="15.2" textLength="21" lengthAdjust="spacingAndGlyphs" >600</text>
<text class="tb" x="1321.7" y="656" font-size="15.2" textLength="21" lengthAdjust="spacingAndGlyphs" >600</text>
<text class="tb" transform="translate(244.5,894.5) rotate(-90)" x="0" y="0" font-size="15.2" textLength="24.5" lengthAdjust="spacingAndGlyphs">1800</text>
<text class="tb" x="441" y="1047.5" font-size="15.2" textLength="28" lengthAdjust="spacingAndGlyphs" >2300</text>
<text class="tm" x="415.7" y="710.5" font-size="16.8" textLength="79.3" lengthAdjust="spacingAndGlyphs" >Вид сверху</text>
<text class="tb" x="129.5" y="789" font-size="15.2" textLength="28.8" lengthAdjust="spacingAndGlyphs" >Вход</text>
<text class="tb" x="162.5" y="789" font-size="15.2" textLength="49.2" lengthAdjust="spacingAndGlyphs" >сточной</text>
<text class="tb" x="156" y="806" font-size="15.2" textLength="29" lengthAdjust="spacingAndGlyphs" >воды</text>
<text class="tb" x="682" y="745" font-size="15.2" textLength="72.5" lengthAdjust="spacingAndGlyphs" >Деревянная</text>
<text class="tb" x="758.7" y="745" font-size="15.2" textLength="56.3" lengthAdjust="spacingAndGlyphs" >опалубка</text>
<text class="tb" x="668.7" y="762" font-size="15.2" textLength="34.6" lengthAdjust="spacingAndGlyphs" >доска</text>
<text class="tb" x="707.5" y="762" font-size="15.2" textLength="57" lengthAdjust="spacingAndGlyphs" >обрезная</text>
<text class="tb" x="768.7" y="762" font-size="15.2" textLength="39.6" lengthAdjust="spacingAndGlyphs" >150х40</text>
<text class="tb" x="812.5" y="762" font-size="15.2" textLength="16.2" lengthAdjust="spacingAndGlyphs" >мм</text>
<text class="tb" x="668.7" y="886" font-size="15.2" textLength="37.1" lengthAdjust="spacingAndGlyphs" >Выход</text>
<text class="tb" x="710" y="886" font-size="15.2" textLength="65" lengthAdjust="spacingAndGlyphs" >очищенной</text>
<text class="tb" x="707.5" y="902.5" font-size="15.2" textLength="28.5" lengthAdjust="spacingAndGlyphs" >воды</text>
<text class="tb" x="668.8" y="995.5" font-size="15.2" textLength="27.9" lengthAdjust="spacingAndGlyphs" >Брус</text>
<text class="tb" x="700.9" y="995.5" font-size="15.2" textLength="45.7" lengthAdjust="spacingAndGlyphs" >100х100</text>
<text class="tb" x="750.8" y="995.5" font-size="15.2" textLength="15.5" lengthAdjust="spacingAndGlyphs" >мм</text>
<text class="tb" x="770.5" y="995.5" font-size="15.2" textLength="65.3" lengthAdjust="spacingAndGlyphs" >(устанавл.</text>
<text class="tb" x="840" y="995.5" font-size="15.2" textLength="13.8" lengthAdjust="spacingAndGlyphs" >по</text>
<text class="tb" x="674.7" y="1011.9" font-size="15.2" textLength="37.8" lengthAdjust="spacingAndGlyphs" >месту</text>
<text class="tb" x="716.7" y="1011.9" font-size="15.2" textLength="62.1" lengthAdjust="spacingAndGlyphs" >в зависим.</text>
<text class="tb" x="783" y="1011.9" font-size="15.2" textLength="16.1" lengthAdjust="spacingAndGlyphs" >от</text>
<text class="tb" x="803.3" y="1011.9" font-size="15.2" textLength="48.6" lengthAdjust="spacingAndGlyphs" >грунта)</text>
<text class="ti" x="881" y="972.8" font-size="14.5" textLength="25.5" lengthAdjust="spacingAndGlyphs" >Изм.</text>
<text class="ti" x="916.5" y="972.8" font-size="14.5" textLength="30.5" lengthAdjust="spacingAndGlyphs" >Кол.уч.</text>
<text class="ti" x="955.5" y="972.8" font-size="14.5" textLength="28.5" lengthAdjust="spacingAndGlyphs" >Лист</text>
<text class="ti" x="991.5" y="972.8" font-size="14.5" textLength="32" lengthAdjust="spacingAndGlyphs" >№ док.</text>
<text class="ti" x="1039.5" y="972.8" font-size="14.5" textLength="31.5" lengthAdjust="spacingAndGlyphs" >Подп.</text>
<text class="ti" x="1087" y="972.8" font-size="14.5" textLength="30" lengthAdjust="spacingAndGlyphs" >Дата</text>
<text class="ti" x="1392.5" y="991.9" font-size="14.5" textLength="44.5" lengthAdjust="spacingAndGlyphs" >Стадия</text>
<text class="ti" x="1457.5" y="991.9" font-size="14.5" textLength="29.5" lengthAdjust="spacingAndGlyphs" >Лист</text>
<text class="ti" x="1517" y="991.9" font-size="14.5" textLength="42.5" lengthAdjust="spacingAndGlyphs" >Листов</text>
<text class="tm" x="1535.5" y="1019.5" font-size="13.5" textLength="5" lengthAdjust="spacingAndGlyphs" >1</text>
<text class="tl" x="1170.1" y="998.2" font-size="19" textLength="91.9" lengthAdjust="spacingAndGlyphs" >Установка</text>
<text class="tl" x="1269.9" y="998.2" font-size="19" textLength="68.2" lengthAdjust="spacingAndGlyphs" >очистки</text>
<text class="tl" x="1201" y="1014.2" font-size="19" textLength="71" lengthAdjust="spacingAndGlyphs" >сточных</text>
<text class="tl" x="1279.4" y="1014.2" font-size="19" textLength="26.6" lengthAdjust="spacingAndGlyphs" >вод</text>
<text class="tl" x="1199.2" y="1029.6" font-size="19" textLength="42.3" lengthAdjust="spacingAndGlyphs" >V=1,5</text>
<text class="tl" x="1249" y="1029.6" font-size="19" textLength="59.5" lengthAdjust="spacingAndGlyphs" >м3/сут</text>
<text class="tn" x="1207" y="1068.7" font-size="14.8" textLength="100" lengthAdjust="spacingAndGlyphs" >ТОПАС/TOPAS 8</text>
<text class="tl" x="1390.5" y="1070" font-size="21" textLength="182" lengthAdjust="spacingAndGlyphs" >ТОПОЛ–ЭКО/TOPOL–ECO</text>
<text class="tm" x="1428.7" y="1105.5" font-size="14.5" textLength="48.3" lengthAdjust="spacingAndGlyphs" >Формат</text>
<text class="tm" x="1521" y="1105.5" font-size="14.5" textLength="16.5" lengthAdjust="spacingAndGlyphs" >А3</text>
<text class="tl" x="661" y="63.4" font-size="28" textLength="333" lengthAdjust="spacingAndGlyphs" >Монтажная схема ТОПАС 8</text>
</g>
</svg>
</body></html>
